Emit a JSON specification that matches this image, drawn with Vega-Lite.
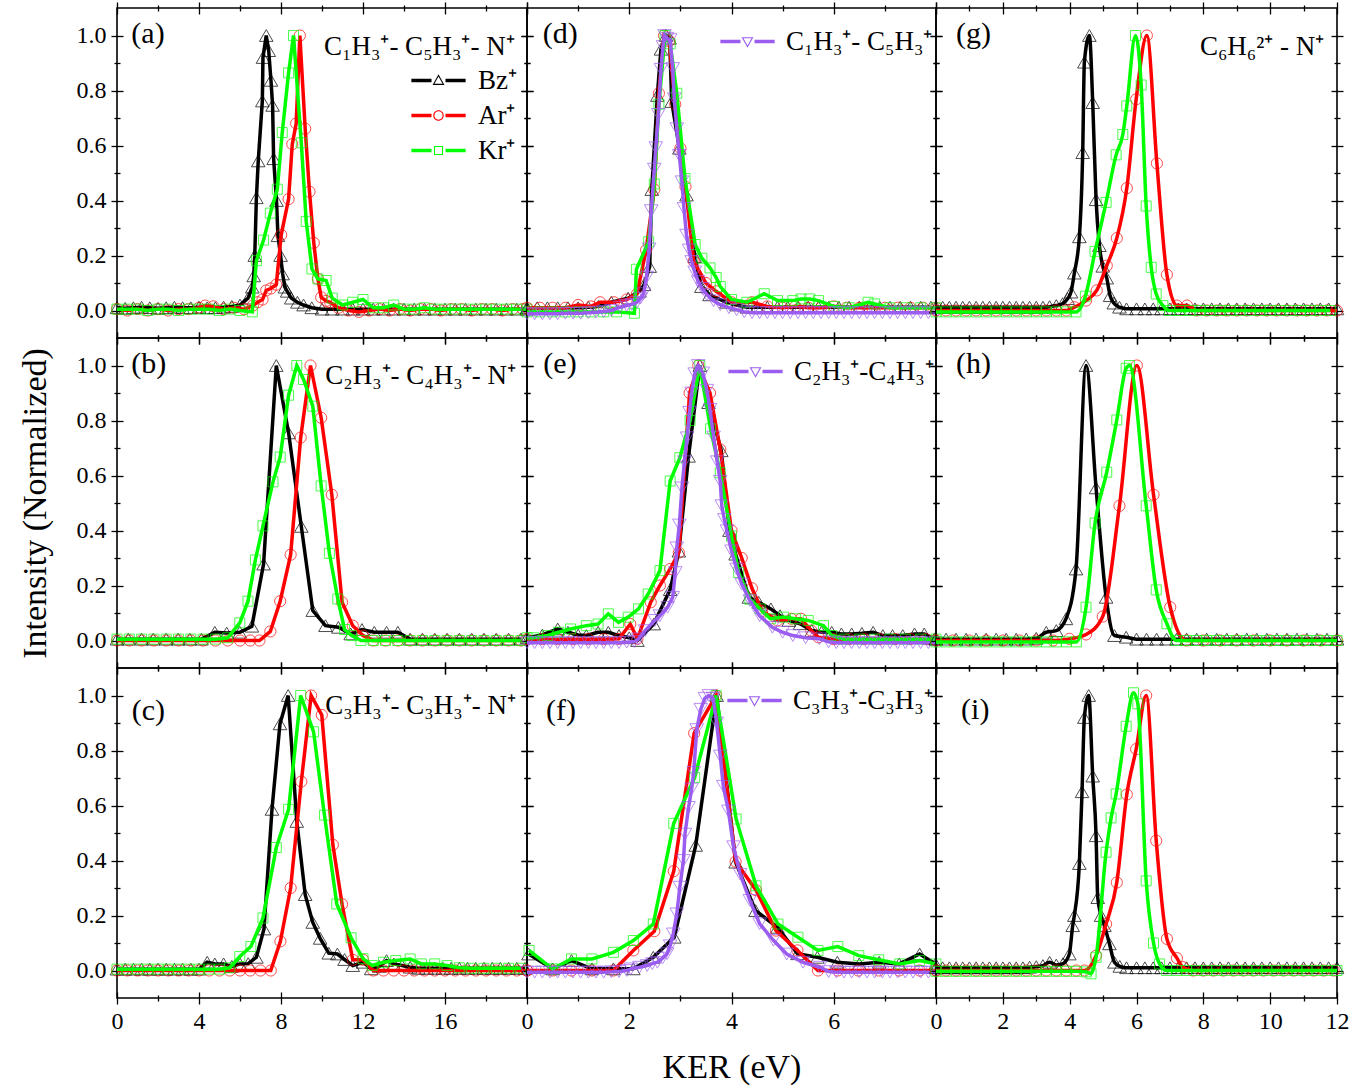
{
"$schema": "https://vega.github.io/schema/vega-lite/v6.json",
"background": "white",
"padding": {"left": 17, "top": 0, "right": 20, "bottom": 4},
"columns": 3,
"spacing": 0,
"bounds": "flush",
"align": "each",
"resolve": {"scale": {"x": "independent", "y": "independent", "color": "independent", "shape": "independent"}, "legend": {"color": "independent", "shape": "independent"}, "axis": {"x": "independent", "y": "independent"}},
"config": {
  "font": "Liberation Serif",
  "view": {"stroke": "#000000", "strokeWidth": 1.6},
  "axis": {"domain": false, "grid": false, "tickColor": "#000000", "tickWidth": 1.3, "tickSize": 12, "labelFont": "Liberation Serif", "labelFontSize": 24, "labelColor": "#000000", "labelPadding": 5, "labelFlush": false, "labelOverlap": false, "titleFont": "Liberation Serif", "titleFontSize": 34, "titleFontWeight": "normal", "titleColor": "#000000"},
  "legend": {"labelFont": "Liberation Serif", "labelFontSize": 27, "labelColor": "#000000", "padding": 0}
},
"datasets": {
"a": [
{"s":"B","x":0,"y":0.01},{"s":"B","x":0.4,"y":0.008},{"s":"B","x":0.8,"y":0.01},{"s":"B","x":1.2,"y":0.012},{"s":"B","x":1.6,"y":0.01},{"s":"B","x":2,"y":0.008},{"s":"B","x":2.4,"y":0.01},{"s":"B","x":2.8,"y":0.012},{"s":"B","x":3.2,"y":0.01},{"s":"B","x":3.6,"y":0.01},{"s":"B","x":4,"y":0.012},{"s":"B","x":4.4,"y":0.01},{"s":"B","x":4.8,"y":0.01},{"s":"B","x":5.2,"y":0.012},{"s":"B","x":5.6,"y":0.015},{"s":"B","x":6,"y":0.02},
{"s":"B","x":6.39,"y":0.045},{"s":"B","x":6.6,"y":0.085},{"s":"B","x":6.67,"y":0.126},{"s":"B","x":6.72,"y":0.2},{"s":"B","x":6.8,"y":0.41},{"s":"B","x":6.89,"y":0.544},{"s":"B","x":7.09,"y":0.762},{"s":"B","x":7.12,"y":0.92},{"s":"B","x":7.28,"y":1},{"s":"B","x":7.4,"y":0.945},{"s":"B","x":7.51,"y":0.837},{"s":"B","x":7.59,"y":0.746},{"s":"B","x":7.64,"y":0.552},{"s":"B","x":7.78,"y":0.4},{"s":"B","x":7.85,"y":0.272},{"s":"B","x":7.98,"y":0.2},{"s":"B","x":8.08,"y":0.133},{"s":"B","x":8.19,"y":0.085},{"s":"B","x":8.3,"y":0.07},{"s":"B","x":8.5,"y":0.045},{"s":"B","x":8.8,"y":0.03},{"s":"B","x":9.1,"y":0.02},{"s":"B","x":9.5,"y":0.01},
{"s":"B","x":10,"y":0.005},{"s":"B","x":10.5,"y":0.005},{"s":"B","x":11,"y":0.005},{"s":"B","x":11.5,"y":0.005},{"s":"B","x":12,"y":0.005},{"s":"B","x":12.5,"y":0.005},{"s":"B","x":13,"y":0.005},{"s":"B","x":13.5,"y":0.005},{"s":"B","x":14,"y":0.005},{"s":"B","x":14.5,"y":0.005},{"s":"B","x":15,"y":0.005},{"s":"B","x":15.5,"y":0.005},{"s":"B","x":16,"y":0.005},{"s":"B","x":16.5,"y":0.005},{"s":"B","x":17,"y":0.005},{"s":"B","x":17.5,"y":0.005},{"s":"B","x":18,"y":0.005},{"s":"B","x":18.5,"y":0.005},{"s":"B","x":19,"y":0.005},{"s":"B","x":19.5,"y":0.005},{"s":"B","x":20,"y":0.005},
{"s":"A","x":0,"y":0.005},{"s":"A","x":0.5,"y":0},{"s":"A","x":1,"y":0.005},{"s":"A","x":1.5,"y":0},{"s":"A","x":2,"y":0.005},{"s":"A","x":2.5,"y":0},{"s":"A","x":3,"y":0.005},{"s":"A","x":3.5,"y":0.005},{"s":"A","x":4,"y":0.01},{"s":"A","x":4.3,"y":0.018},{"s":"A","x":4.7,"y":0.015},{"s":"A","x":5.2,"y":0.005},{"s":"A","x":5.7,"y":0.01},{"s":"A","x":6.2,"y":0.005},
{"s":"A","x":6.63,"y":0.018},{"s":"A","x":6.86,"y":0.03},{"s":"A","x":7.1,"y":0.04},{"s":"A","x":7.28,"y":0.073},{"s":"A","x":7.5,"y":0.08},{"s":"A","x":7.77,"y":0.094},{"s":"A","x":8.01,"y":0.275},{"s":"A","x":8.37,"y":0.405},{"s":"A","x":8.55,"y":0.605},{"s":"A","x":8.74,"y":0.68},{"s":"A","x":8.92,"y":1},{"s":"A","x":9.18,"y":0.661},{"s":"A","x":9.39,"y":0.432},{"s":"A","x":9.6,"y":0.246},{"s":"A","x":9.8,"y":0.115},{"s":"A","x":9.96,"y":0.048},{"s":"A","x":10.2,"y":0.035},{"s":"A","x":10.4,"y":0.03},{"s":"A","x":10.8,"y":0.01},
{"s":"A","x":11.3,"y":0},{"s":"A","x":11.8,"y":-0.005},{"s":"A","x":12.3,"y":0},{"s":"A","x":12.8,"y":0.005},{"s":"A","x":13.3,"y":0},{"s":"A","x":13.8,"y":0.005},{"s":"A","x":14.3,"y":0},{"s":"A","x":14.8,"y":0.005},{"s":"A","x":15.3,"y":0.005},{"s":"A","x":15.8,"y":0},{"s":"A","x":16.3,"y":0.005},{"s":"A","x":16.8,"y":0.005},{"s":"A","x":17.3,"y":0},{"s":"A","x":17.8,"y":0.005},{"s":"A","x":18.3,"y":0.005},{"s":"A","x":18.8,"y":0},{"s":"A","x":19.3,"y":0.005},{"s":"A","x":19.8,"y":0.005},
{"s":"K","x":0,"y":0.005},{"s":"K","x":0.5,"y":0.005},{"s":"K","x":1,"y":0.005},{"s":"K","x":1.5,"y":0},{"s":"K","x":2,"y":0.005},{"s":"K","x":2.5,"y":0.005},{"s":"K","x":3,"y":0},{"s":"K","x":3.5,"y":0.005},{"s":"K","x":4,"y":0.005},{"s":"K","x":4.5,"y":0.005},{"s":"K","x":5,"y":0},{"s":"K","x":5.5,"y":0.005},{"s":"K","x":6,"y":0},{"s":"K","x":6.6,"y":-0.005},
{"s":"K","x":6.8,"y":0.181},{"s":"K","x":7.15,"y":0.256},{"s":"K","x":7.48,"y":0.354},{"s":"K","x":7.82,"y":0.441},{"s":"K","x":8.06,"y":0.647},{"s":"K","x":8.37,"y":0.864},{"s":"K","x":8.61,"y":1},{"s":"K","x":8.99,"y":0.61},{"s":"K","x":9.23,"y":0.324},{"s":"K","x":9.51,"y":0.151},{"s":"K","x":9.8,"y":0.115},{"s":"K","x":10.2,"y":0.109},{"s":"K","x":10.5,"y":0.045},{"s":"K","x":11,"y":0.02},{"s":"K","x":11.5,"y":0.03},{"s":"K","x":12,"y":0.04},{"s":"K","x":12.5,"y":0.01},{"s":"K","x":13,"y":0.01},{"s":"K","x":13.5,"y":0.02},
{"s":"K","x":14,"y":0.005},{"s":"K","x":14.5,"y":0.005},{"s":"K","x":15,"y":0.01},{"s":"K","x":15.5,"y":0.005},{"s":"K","x":16,"y":0.005},{"s":"K","x":16.5,"y":0.005},{"s":"K","x":17,"y":0.005},{"s":"K","x":17.5,"y":0.005},{"s":"K","x":18,"y":0.005},{"s":"K","x":18.5,"y":0.005},{"s":"K","x":19,"y":0.005},{"s":"K","x":19.5,"y":0.005},{"s":"K","x":20,"y":0.005}
],
"b": [
{"s":"B","x":0,"y":0.005},{"s":"B","x":0.55,"y":0.005},{"s":"B","x":1.2,"y":0.005},{"s":"B","x":1.77,"y":0.005},{"s":"B","x":2.4,"y":0.005},{"s":"B","x":2.98,"y":0.005},{"s":"B","x":3.55,"y":0.005},{"s":"B","x":4.12,"y":0.005},{"s":"B","x":4.77,"y":0.03},{"s":"B","x":5.35,"y":0.027},{"s":"B","x":5.99,"y":0.03},{"s":"B","x":6.58,"y":0.052},{"s":"B","x":7.15,"y":0.278},{"s":"B","x":7.77,"y":1},{"s":"B","x":8.37,"y":0.755},{"s":"B","x":8.99,"y":0.415},{"s":"B","x":9.55,"y":0.109},{"s":"B","x":10.17,"y":0.054},{"s":"B","x":10.8,"y":0.048},{"s":"B","x":11.4,"y":0.024},{"s":"B","x":11.95,"y":0.04},{"s":"B","x":12.55,"y":0.03},{"s":"B","x":13.15,"y":0.03},{"s":"B","x":13.7,"y":0.03},{"s":"B","x":14.3,"y":0.005},{"s":"B","x":14.9,"y":0.005},{"s":"B","x":15.5,"y":0.005},{"s":"B","x":16.1,"y":0.005},{"s":"B","x":16.7,"y":0.005},{"s":"B","x":17.3,"y":0.005},{"s":"B","x":17.9,"y":0.005},{"s":"B","x":18.5,"y":0.005},{"s":"B","x":19.1,"y":0.005},{"s":"B","x":19.7,"y":0.005},
{"s":"A","x":0,"y":0},{"s":"A","x":0.6,"y":0},{"s":"A","x":1.2,"y":0},{"s":"A","x":1.8,"y":0},{"s":"A","x":2.4,"y":0},{"s":"A","x":3,"y":0},{"s":"A","x":3.6,"y":0},{"s":"A","x":4.2,"y":0},{"s":"A","x":4.8,"y":0},{"s":"A","x":5.4,"y":0},{"s":"A","x":6,"y":0},{"s":"A","x":6.5,"y":0},{"s":"A","x":6.95,"y":0},{"s":"A","x":7.48,"y":0.033},{"s":"A","x":7.96,"y":0.143},{"s":"A","x":8.47,"y":0.312},{"s":"A","x":8.96,"y":0.738},{"s":"A","x":9.44,"y":1},{"s":"A","x":9.96,"y":0.81},{"s":"A","x":10.48,"y":0.53},{"s":"A","x":10.98,"y":0.139},{"s":"A","x":11.5,"y":0.054},{"s":"A","x":12,"y":0.018},{"s":"A","x":12.5,"y":0},{"s":"A","x":13.1,"y":0},{"s":"A","x":13.7,"y":0},{"s":"A","x":14.3,"y":0},{"s":"A","x":14.9,"y":0},{"s":"A","x":15.5,"y":0},{"s":"A","x":16.1,"y":0},{"s":"A","x":16.7,"y":0},{"s":"A","x":17.3,"y":0},{"s":"A","x":17.9,"y":0},{"s":"A","x":18.5,"y":0},{"s":"A","x":19.1,"y":0},{"s":"A","x":19.7,"y":0},
{"s":"K","x":0,"y":0.005},{"s":"K","x":0.6,"y":0.005},{"s":"K","x":1.2,"y":0.005},{"s":"K","x":1.8,"y":0.005},{"s":"K","x":2.4,"y":0.005},{"s":"K","x":3,"y":0.005},{"s":"K","x":3.6,"y":0.005},{"s":"K","x":4.2,"y":0.005},{"s":"K","x":4.8,"y":0.005},{"s":"K","x":5.4,"y":0.01},{"s":"K","x":5.99,"y":0.064},{"s":"K","x":6.39,"y":0.143},{"s":"K","x":6.75,"y":0.293},{"s":"K","x":7.12,"y":0.417},{"s":"K","x":7.61,"y":0.577},{"s":"K","x":7.96,"y":0.667},{"s":"K","x":8.37,"y":0.892},{"s":"K","x":8.77,"y":1},{"s":"K","x":9.1,"y":0.949},{"s":"K","x":9.55,"y":0.852},{"s":"K","x":9.96,"y":0.562},{"s":"K","x":10.36,"y":0.317},{"s":"K","x":10.77,"y":0.151},{"s":"K","x":11.1,"y":0.04},{"s":"K","x":11.45,"y":0.018},{"s":"K","x":11.9,"y":0},{"s":"K","x":12.5,"y":0},{"s":"K","x":13.1,"y":0},{"s":"K","x":13.7,"y":0},{"s":"K","x":14.3,"y":0},{"s":"K","x":14.9,"y":0},{"s":"K","x":15.5,"y":0},{"s":"K","x":16.1,"y":0},{"s":"K","x":16.7,"y":0},{"s":"K","x":17.3,"y":0},{"s":"K","x":17.9,"y":0},{"s":"K","x":18.5,"y":0},{"s":"K","x":19.1,"y":0},{"s":"K","x":19.7,"y":0}
],
"c": [
{"s":"B","x":0,"y":0.005},{"s":"B","x":0.4,"y":0.005},{"s":"B","x":0.8,"y":0.005},{"s":"B","x":1.2,"y":0.005},{"s":"B","x":1.6,"y":0.005},{"s":"B","x":2,"y":0.005},{"s":"B","x":2.4,"y":0.005},{"s":"B","x":2.8,"y":0.005},{"s":"B","x":3.2,"y":0.005},{"s":"B","x":3.6,"y":0.005},{"s":"B","x":4,"y":0.005},{"s":"B","x":4.4,"y":0.03},{"s":"B","x":4.77,"y":0.024},{"s":"B","x":5.2,"y":0.024},{"s":"B","x":5.6,"y":0.015},{"s":"B","x":6,"y":0.024},{"s":"B","x":6.4,"y":0.025},{"s":"B","x":6.8,"y":0.048},{"s":"B","x":7.17,"y":0.151},{"s":"B","x":7.56,"y":0.586},{"s":"B","x":7.95,"y":0.897},{"s":"B","x":8.35,"y":1},{"s":"B","x":8.77,"y":0.542},{"s":"B","x":9.18,"y":0.276},{"s":"B","x":9.55,"y":0.175},{"s":"B","x":9.91,"y":0.117},{"s":"B","x":10.33,"y":0.063},{"s":"B","x":10.75,"y":0.06},{"s":"B","x":11.1,"y":0.04},{"s":"B","x":11.5,"y":0.018},{"s":"B","x":12,"y":0.03},{"s":"B","x":12.4,"y":0.006},{"s":"B","x":12.8,"y":0.015},{"s":"B","x":13.15,"y":0.036},{"s":"B","x":13.5,"y":0.024},{"s":"B","x":13.9,"y":0.018},{"s":"B","x":14.3,"y":0.012},{"s":"B","x":14.7,"y":0.008},{"s":"B","x":15.1,"y":0.008},{"s":"B","x":15.5,"y":0.008},{"s":"B","x":15.9,"y":0.008},{"s":"B","x":16.3,"y":0.008},{"s":"B","x":16.7,"y":0.008},{"s":"B","x":17.1,"y":0.008},{"s":"B","x":17.5,"y":0.008},{"s":"B","x":17.9,"y":0.008},{"s":"B","x":18.3,"y":0.008},{"s":"B","x":18.7,"y":0.008},{"s":"B","x":19.1,"y":0.008},{"s":"B","x":19.5,"y":0.008},{"s":"B","x":19.9,"y":0.008},
{"s":"A","x":0,"y":0},{"s":"A","x":0.5,"y":0},{"s":"A","x":1,"y":0},{"s":"A","x":1.5,"y":0},{"s":"A","x":2,"y":0},{"s":"A","x":2.5,"y":0},{"s":"A","x":3,"y":0},{"s":"A","x":3.5,"y":0},{"s":"A","x":4,"y":0},{"s":"A","x":4.5,"y":0},{"s":"A","x":5,"y":0},{"s":"A","x":5.5,"y":0},{"s":"A","x":6,"y":0},{"s":"A","x":6.5,"y":0},{"s":"A","x":7,"y":0},{"s":"A","x":7.5,"y":0},{"s":"A","x":7.97,"y":0.106},{"s":"A","x":8.47,"y":0.3},{"s":"A","x":8.99,"y":0.687},{"s":"A","x":9.47,"y":1},{"s":"A","x":9.99,"y":0.929},{"s":"A","x":10.53,"y":0.457},{"s":"A","x":10.98,"y":0.241},{"s":"A","x":11.5,"y":0.039},{"s":"A","x":12,"y":0.039},{"s":"A","x":12.5,"y":0},{"s":"A","x":13,"y":0},{"s":"A","x":13.5,"y":0},{"s":"A","x":14,"y":0},{"s":"A","x":14.5,"y":0},{"s":"A","x":15,"y":0},{"s":"A","x":15.5,"y":0},{"s":"A","x":16,"y":0},{"s":"A","x":16.5,"y":0},{"s":"A","x":17,"y":0},{"s":"A","x":17.5,"y":0},{"s":"A","x":18,"y":0},{"s":"A","x":18.5,"y":0},{"s":"A","x":19,"y":0},{"s":"A","x":19.5,"y":0},{"s":"A","x":20,"y":0},
{"s":"K","x":0,"y":0.005},{"s":"K","x":0.5,"y":0.005},{"s":"K","x":1,"y":0.005},{"s":"K","x":1.5,"y":0.005},{"s":"K","x":2,"y":0.005},{"s":"K","x":2.5,"y":0.005},{"s":"K","x":3,"y":0.005},{"s":"K","x":3.5,"y":0.005},{"s":"K","x":4,"y":0.005},{"s":"K","x":4.5,"y":0.005},{"s":"K","x":5,"y":0.005},{"s":"K","x":5.5,"y":0.01},{"s":"K","x":5.99,"y":0.051},{"s":"K","x":6.53,"y":0.087},{"s":"K","x":7.12,"y":0.191},{"s":"K","x":7.77,"y":0.447},{"s":"K","x":8.37,"y":0.586},{"s":"K","x":8.96,"y":1},{"s":"K","x":9.59,"y":0.868},{"s":"K","x":10.12,"y":0.565},{"s":"K","x":10.72,"y":0.242},{"s":"K","x":11.42,"y":0.119},{"s":"K","x":12,"y":0.043},{"s":"K","x":12.45,"y":0.018},{"s":"K","x":13,"y":0.03},{"s":"K","x":13.6,"y":0.036},{"s":"K","x":14.3,"y":0.042},{"s":"K","x":14.85,"y":0.024},{"s":"K","x":15.5,"y":0.024},{"s":"K","x":16.1,"y":0.018},{"s":"K","x":16.7,"y":0.01},{"s":"K","x":17.3,"y":0.008},{"s":"K","x":17.9,"y":0.008},{"s":"K","x":18.5,"y":0.008},{"s":"K","x":19.1,"y":0.008},{"s":"K","x":19.7,"y":0.008}
],
"d": [
{"s":"B","x":0,"y":0.01},{"s":"B","x":0.2,"y":0.01},{"s":"B","x":0.4,"y":0.01},{"s":"B","x":0.6,"y":0.01},{"s":"B","x":0.8,"y":0.01},{"s":"B","x":1,"y":0.01},{"s":"B","x":1.2,"y":0.012},{"s":"B","x":1.4,"y":0.015},{"s":"B","x":1.65,"y":0.03},{"s":"B","x":1.98,"y":0.045},{"s":"B","x":2.2,"y":0.07},{"s":"B","x":2.29,"y":0.094},{"s":"B","x":2.4,"y":0.16},{"s":"B","x":2.44,"y":0.44},{"s":"B","x":2.55,"y":0.782},{"s":"B","x":2.62,"y":0.95},{"s":"B","x":2.72,"y":1},{"s":"B","x":2.79,"y":0.99},{"s":"B","x":2.83,"y":0.76},{"s":"B","x":2.98,"y":0.59},{"s":"B","x":3.12,"y":0.42},{"s":"B","x":3.28,"y":0.196},{"s":"B","x":3.41,"y":0.087},{"s":"B","x":3.57,"y":0.057},{"s":"B","x":3.9,"y":0.03},{"s":"B","x":4.1,"y":0.02},{"s":"B","x":4.3,"y":0.012},{"s":"B","x":4.5,"y":0.012},{"s":"B","x":4.7,"y":0.012},{"s":"B","x":4.9,"y":0.012},{"s":"B","x":5.1,"y":0.012},{"s":"B","x":5.3,"y":0.012},{"s":"B","x":5.5,"y":0.012},{"s":"B","x":5.7,"y":0.012},{"s":"B","x":5.9,"y":0.012},{"s":"B","x":6.1,"y":0.012},{"s":"B","x":6.3,"y":0.012},{"s":"B","x":6.5,"y":0.012},{"s":"B","x":6.7,"y":0.012},{"s":"B","x":6.9,"y":0.012},{"s":"B","x":7.1,"y":0.012},{"s":"B","x":7.3,"y":0.012},{"s":"B","x":7.5,"y":0.012},{"s":"B","x":7.7,"y":0.012},{"s":"B","x":7.9,"y":0.012},
{"s":"A","x":0,"y":0.01},{"s":"A","x":0.25,"y":0.01},{"s":"A","x":0.5,"y":0.01},{"s":"A","x":0.75,"y":0.01},{"s":"A","x":1,"y":0.02},{"s":"A","x":1.25,"y":0.015},{"s":"A","x":1.43,"y":0.03},{"s":"A","x":1.7,"y":0.03},{"s":"A","x":1.95,"y":0.04},{"s":"A","x":2.15,"y":0.06},{"s":"A","x":2.33,"y":0.22},{"s":"A","x":2.49,"y":0.44},{"s":"A","x":2.58,"y":0.79},{"s":"A","x":2.68,"y":1},{"s":"A","x":2.78,"y":0.98},{"s":"A","x":2.9,"y":0.75},{"s":"A","x":3,"y":0.59},{"s":"A","x":3.1,"y":0.45},{"s":"A","x":3.26,"y":0.18},{"s":"A","x":3.5,"y":0.1},{"s":"A","x":3.7,"y":0.07},{"s":"A","x":4,"y":0.03},{"s":"A","x":4.4,"y":0.03},{"s":"A","x":4.7,"y":0.015},{"s":"A","x":5,"y":0.01},{"s":"A","x":5.25,"y":0.015},{"s":"A","x":5.5,"y":0.01},{"s":"A","x":5.75,"y":0.01},{"s":"A","x":6,"y":0.015},{"s":"A","x":6.25,"y":0.01},{"s":"A","x":6.5,"y":0.01},{"s":"A","x":6.75,"y":0.01},{"s":"A","x":7,"y":0.01},{"s":"A","x":7.25,"y":0.01},{"s":"A","x":7.5,"y":0.01},{"s":"A","x":7.75,"y":0.01},{"s":"A","x":8,"y":0.01},
{"s":"K","x":0,"y":-0.005},{"s":"K","x":0.25,"y":-0.005},{"s":"K","x":0.5,"y":-0.005},{"s":"K","x":0.75,"y":-0.005},{"s":"K","x":1,"y":-0.005},{"s":"K","x":1.25,"y":-0.005},{"s":"K","x":1.5,"y":-0.005},{"s":"K","x":1.75,"y":-0.005},{"s":"K","x":2.1,"y":-0.01},{"s":"K","x":2.14,"y":0.15},{"s":"K","x":2.38,"y":0.25},{"s":"K","x":2.49,"y":0.46},{"s":"K","x":2.58,"y":0.75},{"s":"K","x":2.7,"y":1},{"s":"K","x":2.8,"y":0.97},{"s":"K","x":2.93,"y":0.79},{"s":"K","x":3.09,"y":0.48},{"s":"K","x":3.29,"y":0.24},{"s":"K","x":3.42,"y":0.19},{"s":"K","x":3.58,"y":0.155},{"s":"K","x":3.7,"y":0.12},{"s":"K","x":3.78,"y":0.087},{"s":"K","x":4,"y":0.04},{"s":"K","x":4.3,"y":0.03},{"s":"K","x":4.64,"y":0.061},{"s":"K","x":4.9,"y":0.036},{"s":"K","x":5.2,"y":0.036},{"s":"K","x":5.36,"y":0.042},{"s":"K","x":5.53,"y":0.042},{"s":"K","x":5.7,"y":0.036},{"s":"K","x":6,"y":0.015},{"s":"K","x":6.3,"y":0.01},{"s":"K","x":6.67,"y":0.03},{"s":"K","x":6.8,"y":0.024},{"s":"K","x":7.1,"y":0.01},{"s":"K","x":7.4,"y":0.01},{"s":"K","x":7.7,"y":0.01},{"s":"K","x":8,"y":0.01},
{"s":"P","x":0,"y":-0.012},{"s":"P","x":0.15,"y":-0.012},{"s":"P","x":0.3,"y":-0.012},{"s":"P","x":0.45,"y":-0.012},{"s":"P","x":0.6,"y":-0.012},{"s":"P","x":0.75,"y":-0.01},{"s":"P","x":0.9,"y":-0.01},{"s":"P","x":1.05,"y":-0.01},{"s":"P","x":1.2,"y":-0.008},{"s":"P","x":1.35,"y":-0.006},{"s":"P","x":1.5,"y":-0.004},{"s":"P","x":1.65,"y":0},{"s":"P","x":1.82,"y":0.012},{"s":"P","x":1.95,"y":0.018},{"s":"P","x":2.05,"y":0.022},{"s":"P","x":2.15,"y":0.03},{"s":"P","x":2.22,"y":0.045},{"s":"P","x":2.28,"y":0.061},{"s":"P","x":2.34,"y":0.121},{"s":"P","x":2.39,"y":0.224},{"s":"P","x":2.43,"y":0.363},{"s":"P","x":2.49,"y":0.514},{"s":"P","x":2.52,"y":0.592},{"s":"P","x":2.57,"y":0.713},{"s":"P","x":2.62,"y":0.877},{"s":"P","x":2.66,"y":0.96},{"s":"P","x":2.69,"y":1},{"s":"P","x":2.74,"y":0.99},{"s":"P","x":2.8,"y":0.985},{"s":"P","x":2.85,"y":0.88},{"s":"P","x":2.88,"y":0.77},{"s":"P","x":2.93,"y":0.661},{"s":"P","x":2.98,"y":0.564},{"s":"P","x":3.03,"y":0.468},{"s":"P","x":3.07,"y":0.371},{"s":"P","x":3.12,"y":0.274},{"s":"P","x":3.17,"y":0.22},{"s":"P","x":3.22,"y":0.178},{"s":"P","x":3.28,"y":0.14},{"s":"P","x":3.35,"y":0.105},{"s":"P","x":3.43,"y":0.08},{"s":"P","x":3.52,"y":0.057},{"s":"P","x":3.65,"y":0.035},{"s":"P","x":3.78,"y":0.021},{"s":"P","x":3.95,"y":0.01},{"s":"P","x":4.1,"y":0.003},{"s":"P","x":4.25,"y":-0.005},{"s":"P","x":4.4,"y":-0.008},{"s":"P","x":4.55,"y":-0.008},{"s":"P","x":4.7,"y":-0.008},{"s":"P","x":4.85,"y":-0.008},{"s":"P","x":5,"y":-0.008},{"s":"P","x":5.15,"y":-0.008},{"s":"P","x":5.3,"y":-0.008},{"s":"P","x":5.45,"y":-0.008},{"s":"P","x":5.6,"y":-0.008},{"s":"P","x":5.75,"y":-0.008},{"s":"P","x":5.9,"y":-0.008},{"s":"P","x":6.05,"y":-0.008},{"s":"P","x":6.2,"y":-0.008},{"s":"P","x":6.35,"y":-0.008},{"s":"P","x":6.5,"y":-0.008},{"s":"P","x":6.65,"y":-0.008},{"s":"P","x":6.8,"y":-0.008},{"s":"P","x":6.95,"y":-0.008},{"s":"P","x":7.1,"y":-0.008},{"s":"P","x":7.25,"y":-0.008},{"s":"P","x":7.4,"y":-0.008},{"s":"P","x":7.55,"y":-0.008},{"s":"P","x":7.7,"y":-0.008},{"s":"P","x":7.85,"y":-0.008},{"s":"P","x":8,"y":-0.008}
],
"e": [
{"s":"B","x":0,"y":0.01},{"s":"B","x":0.3,"y":0.02},{"s":"B","x":0.6,"y":0.042},{"s":"B","x":0.8,"y":0.03},{"s":"B","x":1,"y":0.02},{"s":"B","x":1.16,"y":0.018},{"s":"B","x":1.39,"y":0.03},{"s":"B","x":1.59,"y":0.03},{"s":"B","x":1.8,"y":0.018},{"s":"B","x":2,"y":0.01},{"s":"B","x":2.16,"y":0},{"s":"B","x":2.48,"y":0.06},{"s":"B","x":2.8,"y":0.185},{"s":"B","x":2.97,"y":0.325},{"s":"B","x":3.16,"y":0.67},{"s":"B","x":3.38,"y":1},{"s":"B","x":3.55,"y":0.865},{"s":"B","x":3.8,"y":0.69},{"s":"B","x":3.96,"y":0.4},{"s":"B","x":4.08,"y":0.314},{"s":"B","x":4.34,"y":0.157},{"s":"B","x":4.53,"y":0.139},{"s":"B","x":4.77,"y":0.115},{"s":"B","x":4.95,"y":0.09},{"s":"B","x":5.12,"y":0.073},{"s":"B","x":5.34,"y":0.061},{"s":"B","x":5.57,"y":0.036},{"s":"B","x":5.76,"y":0.03},{"s":"B","x":5.96,"y":0.03},{"s":"B","x":6.15,"y":0.024},{"s":"B","x":6.35,"y":0.024},{"s":"B","x":6.55,"y":0.026},{"s":"B","x":6.77,"y":0.03},{"s":"B","x":6.96,"y":0.018},{"s":"B","x":7.15,"y":0.018},{"s":"B","x":7.35,"y":0.018},{"s":"B","x":7.58,"y":0.024},{"s":"B","x":7.77,"y":0.024},{"s":"B","x":7.97,"y":0.006},
{"s":"A","x":0,"y":0.005},{"s":"A","x":0.3,"y":0.005},{"s":"A","x":0.6,"y":0.005},{"s":"A","x":0.9,"y":0.005},{"s":"A","x":1.2,"y":0.005},{"s":"A","x":1.5,"y":0.005},{"s":"A","x":1.8,"y":0.006},{"s":"A","x":2.02,"y":0.06},{"s":"A","x":2.16,"y":0.006},{"s":"A","x":2.42,"y":0.139},{"s":"A","x":2.6,"y":0.2},{"s":"A","x":2.8,"y":0.26},{"s":"A","x":2.97,"y":0.32},{"s":"A","x":3.18,"y":0.9},{"s":"A","x":3.35,"y":1},{"s":"A","x":3.58,"y":0.9},{"s":"A","x":3.78,"y":0.695},{"s":"A","x":4,"y":0.4},{"s":"A","x":4.2,"y":0.3},{"s":"A","x":4.4,"y":0.19},{"s":"A","x":4.6,"y":0.107},{"s":"A","x":4.9,"y":0.073},{"s":"A","x":5.17,"y":0.079},{"s":"A","x":5.36,"y":0.079},{"s":"A","x":5.56,"y":0.036},{"s":"A","x":5.7,"y":0.012},{"s":"A","x":6,"y":0.005},{"s":"A","x":6.3,"y":0.005},{"s":"A","x":6.6,"y":0.005},{"s":"A","x":6.9,"y":0.005},{"s":"A","x":7.2,"y":0.005},{"s":"A","x":7.5,"y":0.005},{"s":"A","x":7.8,"y":0.005},
{"s":"K","x":0,"y":0.01},{"s":"K","x":0.13,"y":0.01},{"s":"K","x":0.4,"y":0.018},{"s":"K","x":0.62,"y":0.03},{"s":"K","x":0.85,"y":0.042},{"s":"K","x":1.16,"y":0.054},{"s":"K","x":1.39,"y":0.06},{"s":"K","x":1.59,"y":0.097},{"s":"K","x":1.79,"y":0.066},{"s":"K","x":1.98,"y":0.085},{"s":"K","x":2.18,"y":0.115},{"s":"K","x":2.37,"y":0.169},{"s":"K","x":2.6,"y":0.254},{"s":"K","x":2.8,"y":0.58},{"s":"K","x":2.99,"y":0.665},{"s":"K","x":3.19,"y":0.8},{"s":"K","x":3.38,"y":1},{"s":"K","x":3.59,"y":0.77},{"s":"K","x":3.78,"y":0.61},{"s":"K","x":4,"y":0.38},{"s":"K","x":4.14,"y":0.247},{"s":"K","x":4.36,"y":0.15},{"s":"K","x":4.56,"y":0.115},{"s":"K","x":4.76,"y":0.079},{"s":"K","x":5.02,"y":0.085},{"s":"K","x":5.25,"y":0.079},{"s":"K","x":5.5,"y":0.073},{"s":"K","x":5.8,"y":0.054},{"s":"K","x":5.96,"y":0.018},{"s":"K","x":6.2,"y":0.005},{"s":"K","x":6.5,"y":0.005},{"s":"K","x":6.8,"y":0.005},{"s":"K","x":7.1,"y":0.005},{"s":"K","x":7.4,"y":0.005},{"s":"K","x":7.7,"y":0.005},{"s":"K","x":8,"y":0.005},
{"s":"P","x":0,"y":-0.008},{"s":"P","x":0.15,"y":-0.008},{"s":"P","x":0.3,"y":-0.008},{"s":"P","x":0.45,"y":-0.008},{"s":"P","x":0.6,"y":-0.008},{"s":"P","x":0.75,"y":-0.008},{"s":"P","x":0.9,"y":-0.008},{"s":"P","x":1.05,"y":-0.008},{"s":"P","x":1.2,"y":-0.008},{"s":"P","x":1.35,"y":-0.008},{"s":"P","x":1.5,"y":-0.008},{"s":"P","x":1.65,"y":-0.008},{"s":"P","x":1.8,"y":-0.008},{"s":"P","x":1.95,"y":-0.006},{"s":"P","x":2.1,"y":-0.004},{"s":"P","x":2.18,"y":0.006},{"s":"P","x":2.31,"y":0.036},{"s":"P","x":2.5,"y":0.073},{"s":"P","x":2.6,"y":0.09},{"s":"P","x":2.75,"y":0.121},{"s":"P","x":2.85,"y":0.157},{"s":"P","x":2.9,"y":0.247},{"s":"P","x":2.93,"y":0.337},{"s":"P","x":2.98,"y":0.42},{"s":"P","x":3.03,"y":0.555},{"s":"P","x":3.08,"y":0.65},{"s":"P","x":3.13,"y":0.737},{"s":"P","x":3.18,"y":0.83},{"s":"P","x":3.22,"y":0.9},{"s":"P","x":3.28,"y":0.97},{"s":"P","x":3.35,"y":1},{"s":"P","x":3.44,"y":0.973},{"s":"P","x":3.52,"y":0.91},{"s":"P","x":3.58,"y":0.84},{"s":"P","x":3.65,"y":0.74},{"s":"P","x":3.72,"y":0.65},{"s":"P","x":3.78,"y":0.579},{"s":"P","x":3.81,"y":0.49},{"s":"P","x":3.86,"y":0.44},{"s":"P","x":3.91,"y":0.399},{"s":"P","x":4,"y":0.326},{"s":"P","x":4.1,"y":0.26},{"s":"P","x":4.2,"y":0.205},{"s":"P","x":4.36,"y":0.145},{"s":"P","x":4.55,"y":0.09},{"s":"P","x":4.8,"y":0.048},{"s":"P","x":5,"y":0.03},{"s":"P","x":5.2,"y":0.018},{"s":"P","x":5.45,"y":0.01},{"s":"P","x":5.72,"y":0.006},{"s":"P","x":5.9,"y":-0.005},{"s":"P","x":6.05,"y":-0.008},{"s":"P","x":6.2,"y":-0.008},{"s":"P","x":6.35,"y":-0.008},{"s":"P","x":6.5,"y":-0.008},{"s":"P","x":6.65,"y":-0.008},{"s":"P","x":6.8,"y":-0.008},{"s":"P","x":6.95,"y":-0.008},{"s":"P","x":7.1,"y":-0.008},{"s":"P","x":7.25,"y":-0.008},{"s":"P","x":7.4,"y":-0.008},{"s":"P","x":7.55,"y":-0.008},{"s":"P","x":7.7,"y":-0.008},{"s":"P","x":7.85,"y":-0.008},{"s":"P","x":8,"y":-0.008}
],
"f": [
{"s":"B","x":0.03,"y":0.06},{"s":"B","x":0.5,"y":0.006},{"s":"B","x":0.87,"y":0.036},{"s":"B","x":1.27,"y":0.006},{"s":"B","x":1.69,"y":0.006},{"s":"B","x":2.08,"y":0.006},{"s":"B","x":2.47,"y":0.048},{"s":"B","x":2.88,"y":0.121},{"s":"B","x":3.3,"y":0.455},{"s":"B","x":3.71,"y":1},{"s":"B","x":4.08,"y":0.394},{"s":"B","x":4.47,"y":0.218},{"s":"B","x":4.9,"y":0.157},{"s":"B","x":5.29,"y":0.061},{"s":"B","x":5.68,"y":0.048},{"s":"B","x":6.07,"y":0.03},{"s":"B","x":6.5,"y":0.024},{"s":"B","x":6.89,"y":0.03},{"s":"B","x":7.28,"y":0.024},{"s":"B","x":7.68,"y":0.06},{"s":"B","x":7.99,"y":0.024},
{"s":"A","x":0,"y":0},{"s":"A","x":0.5,"y":0},{"s":"A","x":0.87,"y":0},{"s":"A","x":1.27,"y":0},{"s":"A","x":1.69,"y":0},{"s":"A","x":2.08,"y":0.073},{"s":"A","x":2.49,"y":0.143},{"s":"A","x":2.87,"y":0.361},{"s":"A","x":3.27,"y":0.863},{"s":"A","x":3.7,"y":1},{"s":"A","x":4.08,"y":0.396},{"s":"A","x":4.48,"y":0.292},{"s":"A","x":4.87,"y":0.145},{"s":"A","x":5.29,"y":0.073},{"s":"A","x":5.69,"y":0},{"s":"A","x":6.08,"y":0},{"s":"A","x":6.48,"y":0},{"s":"A","x":6.88,"y":0},{"s":"A","x":7.28,"y":0},{"s":"A","x":7.68,"y":0},{"s":"A","x":8,"y":0},
{"s":"K","x":0.04,"y":0.073},{"s":"K","x":0.5,"y":0.006},{"s":"K","x":0.87,"y":0.042},{"s":"K","x":1.27,"y":0.042},{"s":"K","x":1.69,"y":0.066},{"s":"K","x":2.08,"y":0.109},{"s":"K","x":2.47,"y":0.169},{"s":"K","x":2.87,"y":0.535},{"s":"K","x":3.28,"y":0.702},{"s":"K","x":3.7,"y":1},{"s":"K","x":4.09,"y":0.551},{"s":"K","x":4.48,"y":0.308},{"s":"K","x":4.91,"y":0.169},{"s":"K","x":5.3,"y":0.121},{"s":"K","x":5.69,"y":0.073},{"s":"K","x":6.08,"y":0.087},{"s":"K","x":6.49,"y":0.054},{"s":"K","x":6.88,"y":0.039},{"s":"K","x":7.29,"y":0.024},{"s":"K","x":7.68,"y":0.036},{"s":"K","x":8,"y":0.024},
{"s":"P","x":0,"y":-0.006},{"s":"P","x":0.15,"y":-0.006},{"s":"P","x":0.3,"y":-0.006},{"s":"P","x":0.45,"y":-0.006},{"s":"P","x":0.6,"y":-0.006},{"s":"P","x":0.75,"y":-0.006},{"s":"P","x":0.9,"y":-0.006},{"s":"P","x":1.05,"y":-0.006},{"s":"P","x":1.2,"y":-0.006},{"s":"P","x":1.35,"y":-0.006},{"s":"P","x":1.5,"y":-0.006},{"s":"P","x":1.65,"y":-0.005},{"s":"P","x":1.8,"y":-0.004},{"s":"P","x":1.95,"y":0},{"s":"P","x":2.03,"y":0.006},{"s":"P","x":2.2,"y":0.012},{"s":"P","x":2.35,"y":0.018},{"s":"P","x":2.45,"y":0.025},{"s":"P","x":2.55,"y":0.03},{"s":"P","x":2.65,"y":0.045},{"s":"P","x":2.74,"y":0.061},{"s":"P","x":2.8,"y":0.09},{"s":"P","x":2.86,"y":0.133},{"s":"P","x":2.93,"y":0.206},{"s":"P","x":2.99,"y":0.303},{"s":"P","x":3.06,"y":0.4},{"s":"P","x":3.09,"y":0.496},{"s":"P","x":3.16,"y":0.593},{"s":"P","x":3.22,"y":0.66},{"s":"P","x":3.26,"y":0.72},{"s":"P","x":3.32,"y":0.876},{"s":"P","x":3.4,"y":0.95},{"s":"P","x":3.48,"y":0.99},{"s":"P","x":3.56,"y":1},{"s":"P","x":3.64,"y":0.99},{"s":"P","x":3.71,"y":0.9},{"s":"P","x":3.78,"y":0.78},{"s":"P","x":3.84,"y":0.67},{"s":"P","x":3.94,"y":0.58},{"s":"P","x":4.04,"y":0.45},{"s":"P","x":4.17,"y":0.35},{"s":"P","x":4.36,"y":0.255},{"s":"P","x":4.55,"y":0.17},{"s":"P","x":4.82,"y":0.11},{"s":"P","x":5.08,"y":0.06},{"s":"P","x":5.4,"y":0.03},{"s":"P","x":5.73,"y":0.012},{"s":"P","x":5.9,"y":-0.004},{"s":"P","x":6.05,"y":-0.006},{"s":"P","x":6.2,"y":-0.006},{"s":"P","x":6.35,"y":-0.006},{"s":"P","x":6.5,"y":-0.006},{"s":"P","x":6.65,"y":-0.006},{"s":"P","x":6.8,"y":-0.006},{"s":"P","x":6.95,"y":-0.006},{"s":"P","x":7.1,"y":-0.006},{"s":"P","x":7.25,"y":-0.006},{"s":"P","x":7.4,"y":-0.006},{"s":"P","x":7.55,"y":-0.006},{"s":"P","x":7.7,"y":-0.006},{"s":"P","x":7.85,"y":-0.006},{"s":"P","x":8,"y":-0.006}
],
"g": [
{"s":"B","x":0,"y":0.012},{"s":"B","x":0.2,"y":0.012},{"s":"B","x":0.4,"y":0.012},{"s":"B","x":0.6,"y":0.012},{"s":"B","x":0.8,"y":0.012},{"s":"B","x":1,"y":0.012},{"s":"B","x":1.2,"y":0.012},{"s":"B","x":1.4,"y":0.012},{"s":"B","x":1.6,"y":0.012},{"s":"B","x":1.8,"y":0.012},{"s":"B","x":2,"y":0.012},{"s":"B","x":2.2,"y":0.012},{"s":"B","x":2.4,"y":0.012},{"s":"B","x":2.6,"y":0.012},{"s":"B","x":2.8,"y":0.012},{"s":"B","x":3,"y":0.012},{"s":"B","x":3.2,"y":0.012},{"s":"B","x":3.4,"y":0.014},{"s":"B","x":3.6,"y":0.018},{"s":"B","x":3.79,"y":0.025},{"s":"B","x":3.94,"y":0.043},{"s":"B","x":4.04,"y":0.067},{"s":"B","x":4.14,"y":0.136},{"s":"B","x":4.29,"y":0.268},{"s":"B","x":4.39,"y":0.574},{"s":"B","x":4.44,"y":0.903},{"s":"B","x":4.59,"y":1},{"s":"B","x":4.69,"y":0.756},{"s":"B","x":4.79,"y":0.403},{"s":"B","x":4.89,"y":0.236},{"s":"B","x":4.99,"y":0.161},{"s":"B","x":5.11,"y":0.118},{"s":"B","x":5.21,"y":0.054},{"s":"B","x":5.32,"y":0.027},{"s":"B","x":5.49,"y":0.012},{"s":"B","x":5.7,"y":0.006},{"s":"B","x":6,"y":0.006},{"s":"B","x":6.25,"y":0.006},{"s":"B","x":6.5,"y":0.006},{"s":"B","x":6.75,"y":0.006},{"s":"B","x":7,"y":0.006},{"s":"B","x":7.25,"y":0.006},{"s":"B","x":7.5,"y":0.006},{"s":"B","x":7.75,"y":0.006},{"s":"B","x":8,"y":0.006},{"s":"B","x":8.25,"y":0.006},{"s":"B","x":8.5,"y":0.006},{"s":"B","x":8.75,"y":0.006},{"s":"B","x":9,"y":0.006},{"s":"B","x":9.25,"y":0.006},{"s":"B","x":9.5,"y":0.006},{"s":"B","x":9.75,"y":0.006},{"s":"B","x":10,"y":0.006},{"s":"B","x":10.25,"y":0.006},{"s":"B","x":10.5,"y":0.006},{"s":"B","x":10.75,"y":0.006},{"s":"B","x":11,"y":0.006},{"s":"B","x":11.25,"y":0.006},{"s":"B","x":11.5,"y":0.006},{"s":"B","x":11.75,"y":0.006},{"s":"B","x":12,"y":0.006},
{"s":"A","x":0,"y":0},{"s":"A","x":0.3,"y":0},{"s":"A","x":0.6,"y":0},{"s":"A","x":0.9,"y":0},{"s":"A","x":1.2,"y":0},{"s":"A","x":1.5,"y":0},{"s":"A","x":1.8,"y":0},{"s":"A","x":2.1,"y":0},{"s":"A","x":2.4,"y":0},{"s":"A","x":2.7,"y":0},{"s":"A","x":3,"y":0},{"s":"A","x":3.3,"y":0},{"s":"A","x":3.6,"y":0},{"s":"A","x":3.9,"y":0},{"s":"A","x":4.14,"y":0.012},{"s":"A","x":4.49,"y":0.036},{"s":"A","x":4.81,"y":0.073},{"s":"A","x":5.11,"y":0.163},{"s":"A","x":5.41,"y":0.263},{"s":"A","x":5.71,"y":0.445},{"s":"A","x":5.99,"y":0.768},{"s":"A","x":6.31,"y":1},{"s":"A","x":6.61,"y":0.535},{"s":"A","x":6.91,"y":0.13},{"s":"A","x":7.21,"y":0.018},{"s":"A","x":7.51,"y":0.018},{"s":"A","x":7.8,"y":0},{"s":"A","x":8.1,"y":0},{"s":"A","x":8.4,"y":0},{"s":"A","x":8.7,"y":0},{"s":"A","x":9,"y":0},{"s":"A","x":9.3,"y":0},{"s":"A","x":9.6,"y":0},{"s":"A","x":9.9,"y":0},{"s":"A","x":10.2,"y":0},{"s":"A","x":10.5,"y":0},{"s":"A","x":10.8,"y":0},{"s":"A","x":11.1,"y":0},{"s":"A","x":11.4,"y":0},{"s":"A","x":11.7,"y":0},{"s":"A","x":12,"y":0},
{"s":"K","x":0,"y":-0.005},{"s":"K","x":0.3,"y":-0.005},{"s":"K","x":0.6,"y":-0.005},{"s":"K","x":0.9,"y":-0.005},{"s":"K","x":1.2,"y":-0.005},{"s":"K","x":1.5,"y":-0.005},{"s":"K","x":1.8,"y":-0.005},{"s":"K","x":2.1,"y":-0.005},{"s":"K","x":2.4,"y":-0.005},{"s":"K","x":2.7,"y":-0.005},{"s":"K","x":3,"y":-0.005},{"s":"K","x":3.3,"y":-0.005},{"s":"K","x":3.6,"y":-0.005},{"s":"K","x":3.9,"y":-0.005},{"s":"K","x":4.19,"y":-0.005},{"s":"K","x":4.47,"y":0.052},{"s":"K","x":4.76,"y":0.215},{"s":"K","x":5.09,"y":0.393},{"s":"K","x":5.39,"y":0.566},{"s":"K","x":5.59,"y":0.64},{"s":"K","x":5.71,"y":0.744},{"s":"K","x":5.97,"y":1},{"s":"K","x":6.14,"y":0.82},{"s":"K","x":6.29,"y":0.38},{"s":"K","x":6.44,"y":0.157},{"s":"K","x":6.59,"y":0.06},{"s":"K","x":6.79,"y":0.018},{"s":"K","x":6.99,"y":0},{"s":"K","x":7.3,"y":0},{"s":"K","x":7.6,"y":0},{"s":"K","x":7.9,"y":0},{"s":"K","x":8.2,"y":0},{"s":"K","x":8.5,"y":0},{"s":"K","x":8.8,"y":0},{"s":"K","x":9.1,"y":0},{"s":"K","x":9.4,"y":0},{"s":"K","x":9.7,"y":0},{"s":"K","x":10,"y":0},{"s":"K","x":10.3,"y":0},{"s":"K","x":10.6,"y":0},{"s":"K","x":10.9,"y":0},{"s":"K","x":11.2,"y":0},{"s":"K","x":11.5,"y":0},{"s":"K","x":11.8,"y":0}
],
"h": [
{"s":"B","x":0,"y":0.005},{"s":"B","x":0.3,"y":0.005},{"s":"B","x":0.6,"y":0.005},{"s":"B","x":0.9,"y":0.005},{"s":"B","x":1.2,"y":0.005},{"s":"B","x":1.5,"y":0.005},{"s":"B","x":1.8,"y":0.005},{"s":"B","x":2.1,"y":0.005},{"s":"B","x":2.4,"y":0.005},{"s":"B","x":2.7,"y":0.005},{"s":"B","x":3,"y":0.008},{"s":"B","x":3.3,"y":0.03},{"s":"B","x":3.6,"y":0.036},{"s":"B","x":3.89,"y":0.079},{"s":"B","x":4.19,"y":0.26},{"s":"B","x":4.49,"y":1},{"s":"B","x":4.79,"y":0.555},{"s":"B","x":5.09,"y":0.157},{"s":"B","x":5.34,"y":0.018},{"s":"B","x":5.69,"y":0.012},{"s":"B","x":6,"y":0.005},{"s":"B","x":6.3,"y":0.005},{"s":"B","x":6.6,"y":0.005},{"s":"B","x":6.9,"y":0.005},{"s":"B","x":7.2,"y":0.005},{"s":"B","x":7.5,"y":0.005},{"s":"B","x":7.8,"y":0.005},{"s":"B","x":8.1,"y":0.005},{"s":"B","x":8.4,"y":0.005},{"s":"B","x":8.7,"y":0.005},{"s":"B","x":9,"y":0.005},{"s":"B","x":9.3,"y":0.005},{"s":"B","x":9.6,"y":0.005},{"s":"B","x":9.9,"y":0.005},{"s":"B","x":10.2,"y":0.005},{"s":"B","x":10.5,"y":0.005},{"s":"B","x":10.8,"y":0.005},{"s":"B","x":11.1,"y":0.005},{"s":"B","x":11.4,"y":0.005},{"s":"B","x":11.7,"y":0.005},{"s":"B","x":12,"y":0.005},
{"s":"A","x":0,"y":0},{"s":"A","x":0.5,"y":0},{"s":"A","x":1,"y":0},{"s":"A","x":1.5,"y":0},{"s":"A","x":2,"y":0},{"s":"A","x":2.5,"y":0},{"s":"A","x":3,"y":0},{"s":"A","x":3.5,"y":0},{"s":"A","x":3.99,"y":0.006},{"s":"A","x":4.49,"y":0.022},{"s":"A","x":4.99,"y":0.087},{"s":"A","x":5.49,"y":0.49},{"s":"A","x":6.01,"y":1},{"s":"A","x":6.51,"y":0.53},{"s":"A","x":7.01,"y":0.121},{"s":"A","x":7.49,"y":0},{"s":"A","x":8,"y":0},{"s":"A","x":8.5,"y":0},{"s":"A","x":9,"y":0},{"s":"A","x":9.5,"y":0},{"s":"A","x":10,"y":0},{"s":"A","x":10.5,"y":0},{"s":"A","x":11,"y":0},{"s":"A","x":11.5,"y":0},{"s":"A","x":12,"y":0},
{"s":"K","x":0,"y":-0.005},{"s":"K","x":0.3,"y":-0.005},{"s":"K","x":0.6,"y":-0.005},{"s":"K","x":0.9,"y":-0.005},{"s":"K","x":1.2,"y":-0.005},{"s":"K","x":1.5,"y":-0.005},{"s":"K","x":1.8,"y":-0.005},{"s":"K","x":2.1,"y":-0.005},{"s":"K","x":2.4,"y":-0.005},{"s":"K","x":2.7,"y":-0.005},{"s":"K","x":3,"y":-0.005},{"s":"K","x":3.3,"y":-0.005},{"s":"K","x":3.6,"y":-0.005},{"s":"K","x":3.9,"y":-0.005},{"s":"K","x":4.2,"y":-0.005},{"s":"K","x":4.49,"y":0.121},{"s":"K","x":4.76,"y":0.427},{"s":"K","x":5.11,"y":0.612},{"s":"K","x":5.41,"y":0.802},{"s":"K","x":5.69,"y":0.99},{"s":"K","x":5.79,"y":1},{"s":"K","x":6.29,"y":0.49},{"s":"K","x":6.59,"y":0.184},{"s":"K","x":6.91,"y":0.061},{"s":"K","x":7.19,"y":0},{"s":"K","x":7.5,"y":0},{"s":"K","x":7.8,"y":0},{"s":"K","x":8.1,"y":0},{"s":"K","x":8.4,"y":0},{"s":"K","x":8.7,"y":0},{"s":"K","x":9,"y":0},{"s":"K","x":9.3,"y":0},{"s":"K","x":9.6,"y":0},{"s":"K","x":9.9,"y":0},{"s":"K","x":10.2,"y":0},{"s":"K","x":10.5,"y":0},{"s":"K","x":10.8,"y":0},{"s":"K","x":11.1,"y":0},{"s":"K","x":11.4,"y":0},{"s":"K","x":11.7,"y":0},{"s":"K","x":12,"y":0}
],
"i": [
{"s":"B","x":0,"y":0.01},{"s":"B","x":0.2,"y":0.01},{"s":"B","x":0.4,"y":0.01},{"s":"B","x":0.6,"y":0.01},{"s":"B","x":0.8,"y":0.01},{"s":"B","x":1,"y":0.01},{"s":"B","x":1.2,"y":0.01},{"s":"B","x":1.4,"y":0.01},{"s":"B","x":1.6,"y":0.01},{"s":"B","x":1.8,"y":0.01},{"s":"B","x":2,"y":0.01},{"s":"B","x":2.2,"y":0.01},{"s":"B","x":2.4,"y":0.01},{"s":"B","x":2.6,"y":0.01},{"s":"B","x":2.8,"y":0.012},{"s":"B","x":3,"y":0.014},{"s":"B","x":3.2,"y":0.018},{"s":"B","x":3.4,"y":0.03},{"s":"B","x":3.6,"y":0.02},{"s":"B","x":3.8,"y":0.025},{"s":"B","x":3.99,"y":0.06},{"s":"B","x":4.09,"y":0.163},{"s":"B","x":4.14,"y":0.2},{"s":"B","x":4.29,"y":0.389},{"s":"B","x":4.37,"y":0.65},{"s":"B","x":4.44,"y":0.92},{"s":"B","x":4.57,"y":1},{"s":"B","x":4.69,"y":0.707},{"s":"B","x":4.79,"y":0.49},{"s":"B","x":4.84,"y":0.265},{"s":"B","x":4.94,"y":0.2},{"s":"B","x":5.04,"y":0.163},{"s":"B","x":5.19,"y":0.097},{"s":"B","x":5.34,"y":0.03},{"s":"B","x":5.5,"y":0.015},{"s":"B","x":5.7,"y":0.01},{"s":"B","x":6,"y":0.01},{"s":"B","x":6.25,"y":0.01},{"s":"B","x":6.5,"y":0.01},{"s":"B","x":6.75,"y":0.01},{"s":"B","x":7,"y":0.01},{"s":"B","x":7.25,"y":0.01},{"s":"B","x":7.5,"y":0.01},{"s":"B","x":7.75,"y":0.01},{"s":"B","x":8,"y":0.01},{"s":"B","x":8.25,"y":0.01},{"s":"B","x":8.5,"y":0.01},{"s":"B","x":8.75,"y":0.01},{"s":"B","x":9,"y":0.01},{"s":"B","x":9.25,"y":0.01},{"s":"B","x":9.5,"y":0.01},{"s":"B","x":9.75,"y":0.01},{"s":"B","x":10,"y":0.01},{"s":"B","x":10.25,"y":0.01},{"s":"B","x":10.5,"y":0.01},{"s":"B","x":10.75,"y":0.01},{"s":"B","x":11,"y":0.01},{"s":"B","x":11.25,"y":0.01},{"s":"B","x":11.5,"y":0.01},{"s":"B","x":11.75,"y":0.01},{"s":"B","x":12,"y":0.01},
{"s":"A","x":0,"y":0},{"s":"A","x":0.3,"y":0},{"s":"A","x":0.6,"y":0},{"s":"A","x":0.9,"y":0},{"s":"A","x":1.2,"y":0},{"s":"A","x":1.5,"y":0},{"s":"A","x":1.8,"y":0},{"s":"A","x":2.1,"y":0},{"s":"A","x":2.4,"y":0},{"s":"A","x":2.7,"y":0},{"s":"A","x":3,"y":0},{"s":"A","x":3.3,"y":0},{"s":"A","x":3.6,"y":0},{"s":"A","x":3.9,"y":0},{"s":"A","x":4.2,"y":0},{"s":"A","x":4.44,"y":0},{"s":"A","x":4.79,"y":0.054},{"s":"A","x":5.09,"y":0.169},{"s":"A","x":5.41,"y":0.32},{"s":"A","x":5.71,"y":0.64},{"s":"A","x":5.99,"y":0.805},{"s":"A","x":6.29,"y":1},{"s":"A","x":6.59,"y":0.472},{"s":"A","x":6.91,"y":0.115},{"s":"A","x":7.21,"y":0.045},{"s":"A","x":7.39,"y":0.012},{"s":"A","x":7.7,"y":0},{"s":"A","x":8,"y":0},{"s":"A","x":8.3,"y":0},{"s":"A","x":8.6,"y":0},{"s":"A","x":8.9,"y":0},{"s":"A","x":9.2,"y":0},{"s":"A","x":9.5,"y":0},{"s":"A","x":9.8,"y":0},{"s":"A","x":10.1,"y":0},{"s":"A","x":10.4,"y":0},{"s":"A","x":10.7,"y":0},{"s":"A","x":11,"y":0},{"s":"A","x":11.3,"y":0},{"s":"A","x":11.6,"y":0},{"s":"A","x":11.9,"y":0},
{"s":"K","x":0,"y":-0.003},{"s":"K","x":0.3,"y":-0.003},{"s":"K","x":0.6,"y":-0.003},{"s":"K","x":0.9,"y":-0.003},{"s":"K","x":1.2,"y":-0.003},{"s":"K","x":1.5,"y":-0.003},{"s":"K","x":1.8,"y":-0.003},{"s":"K","x":2.1,"y":-0.003},{"s":"K","x":2.4,"y":-0.003},{"s":"K","x":2.7,"y":-0.003},{"s":"K","x":3,"y":-0.003},{"s":"K","x":3.3,"y":-0.003},{"s":"K","x":3.6,"y":-0.003},{"s":"K","x":3.9,"y":-0.003},{"s":"K","x":4.2,"y":-0.003},{"s":"K","x":4.5,"y":-0.005},{"s":"K","x":4.64,"y":-0.012},{"s":"K","x":4.79,"y":0.048},{"s":"K","x":5.09,"y":0.43},{"s":"K","x":5.24,"y":0.555},{"s":"K","x":5.39,"y":0.642},{"s":"K","x":5.69,"y":0.888},{"s":"K","x":5.91,"y":1.01},{"s":"K","x":6.04,"y":0.97},{"s":"K","x":6.29,"y":0.326},{"s":"K","x":6.51,"y":0.1},{"s":"K","x":6.69,"y":0.024},{"s":"K","x":6.9,"y":0},{"s":"K","x":7.2,"y":0},{"s":"K","x":7.5,"y":0},{"s":"K","x":7.8,"y":0},{"s":"K","x":8.1,"y":0},{"s":"K","x":8.4,"y":0},{"s":"K","x":8.7,"y":0},{"s":"K","x":9,"y":0},{"s":"K","x":9.3,"y":0},{"s":"K","x":9.6,"y":0},{"s":"K","x":9.9,"y":0},{"s":"K","x":10.2,"y":0},{"s":"K","x":10.5,"y":0},{"s":"K","x":10.8,"y":0},{"s":"K","x":11.1,"y":0},{"s":"K","x":11.4,"y":0},{"s":"K","x":11.7,"y":0},{"s":"K","x":12,"y":0}
]
},
"concat": [
{
 "width": 410, "height": 330,
 "layer": [
  {"data": {"name": "a"}, "transform": [{"filter": "datum.s == 'B'"}], "mark": {"type": "line", "strokeWidth": 3.5, "color": "#000000"},
   "encoding": {"x": {"field": "x", "type": "quantitative", "scale": {"domain": [0,20], "nice": false, "zero": false}, "axis": {"orient": "bottom", "offset": -6, "values": [0,4,8,12,16,20], "labels": false, "title": null}},
                "y": {"field": "y", "type": "quantitative", "scale": {"domain": [-0.1,1.1], "nice": false, "zero": false}, "axis": {"orient": "left", "offset": -6, "values": [0,0.2,0.4,0.6,0.8,1], "format": ".1f", "title": null}}}},
  {"data": {"name": "a"}, "transform": [{"filter": "datum.s == 'B'"}], "mark": {"type": "point", "shape": "triangle-up", "filled": false, "color": "#000000", "size": 185, "strokeWidth": 1},
   "encoding": {"x": {"field": "x", "type": "quantitative", "axis": {"orient": "top", "offset": -6, "values": [0,4,8,12,16,20], "labels": false, "title": null}},
                "y": {"field": "y", "type": "quantitative", "axis": {"orient": "right", "offset": -6, "values": [0,0.2,0.4,0.6,0.8,1], "labels": false, "title": null}}}},
  {"data": {"name": "a"}, "transform": [{"filter": "datum.s == 'A'"}], "mark": {"type": "line", "strokeWidth": 3.5, "color": "#ff0000"}, "encoding": {"x": {"field": "x", "type": "quantitative", "axis": null}, "y": {"field": "y", "type": "quantitative", "axis": null}}},
  {"data": {"name": "a"}, "transform": [{"filter": "datum.s == 'A'"}], "mark": {"type": "point", "shape": "circle", "filled": false, "color": "#ff0000", "size": 125, "strokeWidth": 1}, "encoding": {"x": {"field": "x", "type": "quantitative", "axis": null}, "y": {"field": "y", "type": "quantitative", "axis": null}}},
  {"data": {"name": "a"}, "transform": [{"filter": "datum.s == 'K'"}], "mark": {"type": "line", "strokeWidth": 3.5, "color": "#00ff00"}, "encoding": {"x": {"field": "x", "type": "quantitative", "axis": null}, "y": {"field": "y", "type": "quantitative", "axis": null}}},
  {"data": {"name": "a"}, "transform": [{"filter": "datum.s == 'K'"}], "mark": {"type": "point", "shape": "square", "filled": false, "color": "#00ff00", "size": 100, "strokeWidth": 1}, "encoding": {"x": {"field": "x", "type": "quantitative", "axis": null}, "y": {"field": "y", "type": "quantitative", "axis": null}}},
  {"data": {"name": "a"}, "mark": {"type": "point", "filled": true, "opacity": 0},
   "encoding": {
    "color": {"field": "s", "type": "nominal", "scale": {"domain": ["B","A","K","P"], "range": ["#000000","#ff0000","#00ff00","#9b5cf0"]},
      "legend": {"orient": "none", "legendX": 304, "legendY": 55, "title": null, "values": ["B","A","K"], "labelExpr": "datum.value == 'B' ? 'Bz⁺' : datum.value == 'A' ? 'Ar⁺' : 'Kr⁺'", "symbolSize": 1225, "symbolOpacity": 1, "symbolStrokeWidth": 0, "labelOffset": 22, "rowPadding": 4}},
    "shape": {"field": "s", "type": "nominal", "scale": {"domain": ["B","A","K","P"], "range": [
       "M-1.55,-0.1L-0.4,-0.1L-0.4,0.1L-1.55,0.1Z M0.4,-0.1L1.55,-0.1L1.55,0.1L0.4,0.1Z M0,-0.36L0.34,0.25L-0.34,0.25Z M0,-0.23L-0.232,0.187L0.232,0.187Z",
       "M-1.55,-0.1L-0.4,-0.1L-0.4,0.1L-1.55,0.1Z M0.4,-0.1L1.55,-0.1L1.55,0.1L0.4,0.1Z M0.3,0A0.3,0.3 0 1 1 -0.3,0A0.3,0.3 0 1 1 0.3,0Z M0.237,0A0.237,0.237 0 1 0 -0.237,0A0.237,0.237 0 1 0 0.237,0Z",
       "M-1.55,-0.1L-0.4,-0.1L-0.4,0.1L-1.55,0.1Z M0.4,-0.1L1.55,-0.1L1.55,0.1L0.4,0.1Z M-0.26,-0.26L0.26,-0.26L0.26,0.26L-0.26,0.26Z M-0.197,-0.197L-0.197,0.197L0.197,0.197L0.197,-0.197Z",
       "M-1.55,-0.1L-0.4,-0.1L-0.4,0.1L-1.55,0.1Z M0.4,-0.1L1.55,-0.1L1.55,0.1L0.4,0.1Z M0,0.36L-0.34,-0.25L0.34,-0.25Z M0,0.23L0.232,-0.187L-0.232,-0.187Z"]},
      "legend": {"orient": "none", "legendX": 304, "legendY": 55, "title": null, "values": ["B","A","K"], "labelExpr": "datum.value == 'B' ? 'Bz⁺' : datum.value == 'A' ? 'Ar⁺' : 'Kr⁺'", "symbolSize": 1225, "symbolOpacity": 1, "symbolStrokeWidth": 0, "labelOffset": 22, "rowPadding": 4}}
   }},
  {"data": {"values": [{}]}, "mark": {"type": "text", "fontSize": 30, "align": "left", "baseline": "middle"},
   "encoding": {"x": {"datum": 0.7, "type": "quantitative", "axis": {"orient": "bottom", "offset": -3, "tickSize": 6, "values": [2,6,10,14,18], "labels": false, "title": null}}, "y": {"datum": 1.005, "type": "quantitative", "axis": {"orient": "left", "offset": -3, "tickSize": 6, "values": [0.1,0.3,0.5,0.7,0.9], "labels": false, "title": null}}, "text": {"value": "(a)"}}},
  {"data": {"values": [{}]}, "mark": {"type": "text", "fontSize": 27, "align": "right", "baseline": "middle"},
   "encoding": {"x": {"datum": 19.4, "type": "quantitative", "axis": {"orient": "top", "offset": -3, "tickSize": 6, "values": [2,6,10,14,18], "labels": false, "title": null}}, "y": {"datum": 0.96, "type": "quantitative", "axis": {"orient": "right", "offset": -3, "tickSize": 6, "values": [0.1,0.3,0.5,0.7,0.9], "labels": false, "title": null}}, "text": {"value": "C₁H₃⁺- C₅H₃⁺- N⁺"}}}
 ],
 "resolve": {"axis": {"x": "independent", "y": "independent"}}
},
{
 "width": 409, "height": 330,
 "layer": [
  {"data": {"name": "d"}, "transform": [{"filter": "datum.s == 'B'"}], "mark": {"type": "line", "strokeWidth": 3.5, "color": "#000000"},
   "encoding": {"x": {"field": "x", "type": "quantitative", "scale": {"domain": [0,8], "nice": false, "zero": false}, "axis": {"orient": "bottom", "offset": -6, "values": [0,2,4,6,8], "labels": false, "title": null}},
                "y": {"field": "y", "type": "quantitative", "scale": {"domain": [-0.1,1.1], "nice": false, "zero": false}, "axis": {"orient": "left", "offset": -6, "values": [0,0.2,0.4,0.6,0.8,1], "labels": false, "title": null}}}},
  {"data": {"name": "d"}, "transform": [{"filter": "datum.s == 'B'"}], "mark": {"type": "point", "shape": "triangle-up", "filled": false, "color": "#000000", "size": 185, "strokeWidth": 1},
   "encoding": {"x": {"field": "x", "type": "quantitative", "axis": {"orient": "top", "offset": -6, "values": [0,2,4,6,8], "labels": false, "title": null}},
                "y": {"field": "y", "type": "quantitative", "axis": {"orient": "right", "offset": -6, "values": [0,0.2,0.4,0.6,0.8,1], "labels": false, "title": null}}}},
  {"data": {"name": "d"}, "transform": [{"filter": "datum.s == 'A'"}], "mark": {"type": "line", "strokeWidth": 3.5, "color": "#ff0000"}, "encoding": {"x": {"field": "x", "type": "quantitative", "axis": null}, "y": {"field": "y", "type": "quantitative", "axis": null}}},
  {"data": {"name": "d"}, "transform": [{"filter": "datum.s == 'A'"}], "mark": {"type": "point", "shape": "circle", "filled": false, "color": "#ff0000", "size": 125, "strokeWidth": 1}, "encoding": {"x": {"field": "x", "type": "quantitative", "axis": null}, "y": {"field": "y", "type": "quantitative", "axis": null}}},
  {"data": {"name": "d"}, "transform": [{"filter": "datum.s == 'K'"}], "mark": {"type": "line", "strokeWidth": 3.5, "color": "#00ff00"}, "encoding": {"x": {"field": "x", "type": "quantitative", "axis": null}, "y": {"field": "y", "type": "quantitative", "axis": null}}},
  {"data": {"name": "d"}, "transform": [{"filter": "datum.s == 'K'"}], "mark": {"type": "point", "shape": "square", "filled": false, "color": "#00ff00", "size": 100, "strokeWidth": 1}, "encoding": {"x": {"field": "x", "type": "quantitative", "axis": null}, "y": {"field": "y", "type": "quantitative", "axis": null}}},
  {"data": {"name": "d"}, "transform": [{"filter": "datum.s == 'P'"}], "mark": {"type": "line", "strokeWidth": 3.5, "color": "#9b5cf0"}, "encoding": {"x": {"field": "x", "type": "quantitative", "axis": null}, "y": {"field": "y", "type": "quantitative", "axis": null}}},
  {"data": {"name": "d"}, "transform": [{"filter": "datum.s == 'P'"}], "mark": {"type": "point", "shape": "triangle-down", "filled": false, "color": "#9b5cf0", "size": 185, "strokeWidth": 1}, "encoding": {"x": {"field": "x", "type": "quantitative", "axis": null}, "y": {"field": "y", "type": "quantitative", "axis": null}}},
  {"data": {"name": "d"}, "transform": [{"filter": "datum.s == 'P'"}], "mark": {"type": "point", "filled": true, "opacity": 0},
   "encoding": {
    "color": {"field": "s", "type": "nominal", "scale": {"domain": ["P"], "range": ["#9b5cf0"]},
      "legend": {"orient": "none", "legendX": 203, "legendY": 16, "title": null, "values": ["P"], "labelExpr": "'C₁H₃⁺- C₅H₃⁺'", "symbolSize": 1225, "symbolOpacity": 1, "symbolStrokeWidth": 0, "labelOffset": 21, "rowPadding": 0}},
    "shape": {"field": "s", "type": "nominal", "scale": {"domain": ["P"], "range": ["M-1.55,-0.1L-0.4,-0.1L-0.4,0.1L-1.55,0.1Z M0.4,-0.1L1.55,-0.1L1.55,0.1L0.4,0.1Z M0,0.36L-0.34,-0.25L0.34,-0.25Z M0,0.23L0.232,-0.187L-0.232,-0.187Z"]},
      "legend": {"orient": "none", "legendX": 203, "legendY": 16, "title": null, "values": ["P"], "labelExpr": "'C₁H₃⁺- C₅H₃⁺'", "symbolSize": 1225, "symbolOpacity": 1, "symbolStrokeWidth": 0, "labelOffset": 21, "rowPadding": 0}}
   }},
  {"data": {"values": [{}]}, "mark": {"type": "text", "fontSize": 30, "align": "left", "baseline": "middle"},
   "encoding": {"x": {"datum": 0.31, "type": "quantitative", "axis": {"orient": "bottom", "offset": -3, "tickSize": 6, "values": [1,3,5,7], "labels": false, "title": null}}, "y": {"datum": 1.005, "type": "quantitative", "axis": {"orient": "left", "offset": -3, "tickSize": 6, "values": [0.1,0.3,0.5,0.7,0.9], "labels": false, "title": null}}, "text": {"value": "(d)"}}},
  {"data": {"values": [{}]}, "mark": {"type": "text", "fontSize": 27, "align": "right", "baseline": "middle"},
   "encoding": {"x": {"datum": 7.9, "type": "quantitative", "axis": {"orient": "top", "offset": -3, "tickSize": 6, "values": [1,3,5,7], "labels": false, "title": null}}, "y": {"datum": 0.96, "type": "quantitative", "axis": {"orient": "right", "offset": -3, "tickSize": 6, "values": [0.1,0.3,0.5,0.7,0.9], "labels": false, "title": null}}, "text": {"value": ""}}}
 ],
 "resolve": {"axis": {"x": "independent", "y": "independent"}}
},
{
 "width": 401, "height": 330,
 "layer": [
  {"data": {"name": "g"}, "transform": [{"filter": "datum.s == 'B'"}], "mark": {"type": "line", "strokeWidth": 3.5, "color": "#000000", "interpolate": "monotone"},
   "encoding": {"x": {"field": "x", "type": "quantitative", "scale": {"domain": [0,12], "nice": false, "zero": false}, "axis": {"orient": "bottom", "offset": -6, "values": [0,2,4,6,8,10,12], "labels": false, "title": null}},
                "y": {"field": "y", "type": "quantitative", "scale": {"domain": [-0.1,1.1], "nice": false, "zero": false}, "axis": {"orient": "left", "offset": -6, "values": [0,0.2,0.4,0.6,0.8,1], "labels": false, "title": null}}}},
  {"data": {"name": "g"}, "transform": [{"filter": "datum.s == 'B'"}], "mark": {"type": "point", "shape": "triangle-up", "filled": false, "color": "#000000", "size": 185, "strokeWidth": 1},
   "encoding": {"x": {"field": "x", "type": "quantitative", "axis": {"orient": "top", "offset": -6, "values": [0,2,4,6,8,10,12], "labels": false, "title": null}},
                "y": {"field": "y", "type": "quantitative", "axis": {"orient": "right", "offset": -6, "values": [0,0.2,0.4,0.6,0.8,1], "labels": false, "title": null}}}},
  {"data": {"name": "g"}, "transform": [{"filter": "datum.s == 'A'"}], "mark": {"type": "line", "strokeWidth": 3.5, "color": "#ff0000", "interpolate": "monotone"}, "encoding": {"x": {"field": "x", "type": "quantitative", "axis": null}, "y": {"field": "y", "type": "quantitative", "axis": null}}},
  {"data": {"name": "g"}, "transform": [{"filter": "datum.s == 'A'"}], "mark": {"type": "point", "shape": "circle", "filled": false, "color": "#ff0000", "size": 125, "strokeWidth": 1}, "encoding": {"x": {"field": "x", "type": "quantitative", "axis": null}, "y": {"field": "y", "type": "quantitative", "axis": null}}},
  {"data": {"name": "g"}, "transform": [{"filter": "datum.s == 'K'"}], "mark": {"type": "line", "strokeWidth": 3.5, "color": "#00ff00", "interpolate": "monotone"}, "encoding": {"x": {"field": "x", "type": "quantitative", "axis": null}, "y": {"field": "y", "type": "quantitative", "axis": null}}},
  {"data": {"name": "g"}, "transform": [{"filter": "datum.s == 'K'"}], "mark": {"type": "point", "shape": "square", "filled": false, "color": "#00ff00", "size": 100, "strokeWidth": 1}, "encoding": {"x": {"field": "x", "type": "quantitative", "axis": null}, "y": {"field": "y", "type": "quantitative", "axis": null}}},
  {"data": {"values": [{}]}, "mark": {"type": "text", "fontSize": 30, "align": "left", "baseline": "middle"},
   "encoding": {"x": {"datum": 0.6, "type": "quantitative", "axis": {"orient": "bottom", "offset": -3, "tickSize": 6, "values": [1,3,5,7,9,11], "labels": false, "title": null}}, "y": {"datum": 1.005, "type": "quantitative", "axis": {"orient": "left", "offset": -3, "tickSize": 6, "values": [0.1,0.3,0.5,0.7,0.9], "labels": false, "title": null}}, "text": {"value": "(g)"}}},
  {"data": {"values": [{}]}, "mark": {"type": "text", "fontSize": 27, "align": "right", "baseline": "middle"},
   "encoding": {"x": {"datum": 11.62, "type": "quantitative", "axis": {"orient": "top", "offset": -3, "tickSize": 6, "values": [1,3,5,7,9,11], "labels": false, "title": null}}, "y": {"datum": 0.96, "type": "quantitative", "axis": {"orient": "right", "offset": -3, "tickSize": 6, "values": [0.1,0.3,0.5,0.7,0.9], "labels": false, "title": null}}, "text": {"value": "C₆H₆²⁺ - N⁺"}}}
 ],
 "resolve": {"axis": {"x": "independent", "y": "independent"}}
},
{
 "width": 410, "height": 330,
 "layer": [
  {"data": {"name": "b"}, "transform": [{"filter": "datum.s == 'B'"}], "mark": {"type": "line", "strokeWidth": 3.5, "color": "#000000"},
   "encoding": {"x": {"field": "x", "type": "quantitative", "scale": {"domain": [0,20], "nice": false, "zero": false}, "axis": {"orient": "bottom", "offset": -6, "values": [0,4,8,12,16,20], "labels": false, "title": null}},
                "y": {"field": "y", "type": "quantitative", "scale": {"domain": [-0.1,1.1], "nice": false, "zero": false}, "axis": {"orient": "left", "offset": -6, "values": [0,0.2,0.4,0.6,0.8,1], "format": ".1f", "title": "Intensity (Normalized)", "titlePadding": 24}}}},
  {"data": {"name": "b"}, "transform": [{"filter": "datum.s == 'B'"}], "mark": {"type": "point", "shape": "triangle-up", "filled": false, "color": "#000000", "size": 185, "strokeWidth": 1},
   "encoding": {"x": {"field": "x", "type": "quantitative", "axis": {"orient": "top", "offset": -6, "values": [0,4,8,12,16,20], "labels": false, "title": null}},
                "y": {"field": "y", "type": "quantitative", "axis": {"orient": "right", "offset": -6, "values": [0,0.2,0.4,0.6,0.8,1], "labels": false, "title": null}}}},
  {"data": {"name": "b"}, "transform": [{"filter": "datum.s == 'A'"}], "mark": {"type": "line", "strokeWidth": 3.5, "color": "#ff0000"}, "encoding": {"x": {"field": "x", "type": "quantitative", "axis": null}, "y": {"field": "y", "type": "quantitative", "axis": null}}},
  {"data": {"name": "b"}, "transform": [{"filter": "datum.s == 'A'"}], "mark": {"type": "point", "shape": "circle", "filled": false, "color": "#ff0000", "size": 125, "strokeWidth": 1}, "encoding": {"x": {"field": "x", "type": "quantitative", "axis": null}, "y": {"field": "y", "type": "quantitative", "axis": null}}},
  {"data": {"name": "b"}, "transform": [{"filter": "datum.s == 'K'"}], "mark": {"type": "line", "strokeWidth": 3.5, "color": "#00ff00"}, "encoding": {"x": {"field": "x", "type": "quantitative", "axis": null}, "y": {"field": "y", "type": "quantitative", "axis": null}}},
  {"data": {"name": "b"}, "transform": [{"filter": "datum.s == 'K'"}], "mark": {"type": "point", "shape": "square", "filled": false, "color": "#00ff00", "size": 100, "strokeWidth": 1}, "encoding": {"x": {"field": "x", "type": "quantitative", "axis": null}, "y": {"field": "y", "type": "quantitative", "axis": null}}},
  {"data": {"values": [{}]}, "mark": {"type": "text", "fontSize": 30, "align": "left", "baseline": "middle"},
   "encoding": {"x": {"datum": 0.7, "type": "quantitative", "axis": {"orient": "bottom", "offset": -3, "tickSize": 6, "values": [2,6,10,14,18], "labels": false, "title": null}}, "y": {"datum": 1.005, "type": "quantitative", "axis": {"orient": "left", "offset": -3, "tickSize": 6, "values": [0.1,0.3,0.5,0.7,0.9], "labels": false, "title": null}}, "text": {"value": "(b)"}}},
  {"data": {"values": [{}]}, "mark": {"type": "text", "fontSize": 27, "align": "right", "baseline": "middle"},
   "encoding": {"x": {"datum": 19.46, "type": "quantitative", "axis": {"orient": "top", "offset": -3, "tickSize": 6, "values": [2,6,10,14,18], "labels": false, "title": null}}, "y": {"datum": 0.962, "type": "quantitative", "axis": {"orient": "right", "offset": -3, "tickSize": 6, "values": [0.1,0.3,0.5,0.7,0.9], "labels": false, "title": null}}, "text": {"value": "C₂H₃⁺- C₄H₃⁺- N⁺"}}}
 ],
 "resolve": {"axis": {"x": "independent", "y": "independent"}}
},
{
 "width": 409, "height": 330,
 "layer": [
  {"data": {"name": "e"}, "transform": [{"filter": "datum.s == 'B'"}], "mark": {"type": "line", "strokeWidth": 3.5, "color": "#000000"},
   "encoding": {"x": {"field": "x", "type": "quantitative", "scale": {"domain": [0,8], "nice": false, "zero": false}, "axis": {"orient": "bottom", "offset": -6, "values": [0,2,4,6,8], "labels": false, "title": null}},
                "y": {"field": "y", "type": "quantitative", "scale": {"domain": [-0.1,1.1], "nice": false, "zero": false}, "axis": {"orient": "left", "offset": -6, "values": [0,0.2,0.4,0.6,0.8,1], "labels": false, "title": null}}}},
  {"data": {"name": "e"}, "transform": [{"filter": "datum.s == 'B'"}], "mark": {"type": "point", "shape": "triangle-up", "filled": false, "color": "#000000", "size": 185, "strokeWidth": 1},
   "encoding": {"x": {"field": "x", "type": "quantitative", "axis": {"orient": "top", "offset": -6, "values": [0,2,4,6,8], "labels": false, "title": null}},
                "y": {"field": "y", "type": "quantitative", "axis": {"orient": "right", "offset": -6, "values": [0,0.2,0.4,0.6,0.8,1], "labels": false, "title": null}}}},
  {"data": {"name": "e"}, "transform": [{"filter": "datum.s == 'A'"}], "mark": {"type": "line", "strokeWidth": 3.5, "color": "#ff0000"}, "encoding": {"x": {"field": "x", "type": "quantitative", "axis": null}, "y": {"field": "y", "type": "quantitative", "axis": null}}},
  {"data": {"name": "e"}, "transform": [{"filter": "datum.s == 'A'"}], "mark": {"type": "point", "shape": "circle", "filled": false, "color": "#ff0000", "size": 125, "strokeWidth": 1}, "encoding": {"x": {"field": "x", "type": "quantitative", "axis": null}, "y": {"field": "y", "type": "quantitative", "axis": null}}},
  {"data": {"name": "e"}, "transform": [{"filter": "datum.s == 'K'"}], "mark": {"type": "line", "strokeWidth": 3.5, "color": "#00ff00"}, "encoding": {"x": {"field": "x", "type": "quantitative", "axis": null}, "y": {"field": "y", "type": "quantitative", "axis": null}}},
  {"data": {"name": "e"}, "transform": [{"filter": "datum.s == 'K'"}], "mark": {"type": "point", "shape": "square", "filled": false, "color": "#00ff00", "size": 100, "strokeWidth": 1}, "encoding": {"x": {"field": "x", "type": "quantitative", "axis": null}, "y": {"field": "y", "type": "quantitative", "axis": null}}},
  {"data": {"name": "e"}, "transform": [{"filter": "datum.s == 'P'"}], "mark": {"type": "line", "strokeWidth": 3.5, "color": "#9b5cf0"}, "encoding": {"x": {"field": "x", "type": "quantitative", "axis": null}, "y": {"field": "y", "type": "quantitative", "axis": null}}},
  {"data": {"name": "e"}, "transform": [{"filter": "datum.s == 'P'"}], "mark": {"type": "point", "shape": "triangle-down", "filled": false, "color": "#9b5cf0", "size": 185, "strokeWidth": 1}, "encoding": {"x": {"field": "x", "type": "quantitative", "axis": null}, "y": {"field": "y", "type": "quantitative", "axis": null}}},
  {"data": {"name": "e"}, "transform": [{"filter": "datum.s == 'P'"}], "mark": {"type": "point", "filled": true, "opacity": 0},
   "encoding": {
    "color": {"field": "s", "type": "nominal", "scale": {"domain": ["P"], "range": ["#9b5cf0"]},
      "legend": {"orient": "none", "legendX": 211, "legendY": 16, "title": null, "values": ["P"], "labelExpr": "'C₂H₃⁺-C₄H₃⁺'", "symbolSize": 1225, "symbolOpacity": 1, "symbolStrokeWidth": 0, "labelOffset": 21, "rowPadding": 0}},
    "shape": {"field": "s", "type": "nominal", "scale": {"domain": ["P"], "range": ["M-1.55,-0.1L-0.4,-0.1L-0.4,0.1L-1.55,0.1Z M0.4,-0.1L1.55,-0.1L1.55,0.1L0.4,0.1Z M0,0.36L-0.34,-0.25L0.34,-0.25Z M0,0.23L0.232,-0.187L-0.232,-0.187Z"]},
      "legend": {"orient": "none", "legendX": 211, "legendY": 16, "title": null, "values": ["P"], "labelExpr": "'C₂H₃⁺-C₄H₃⁺'", "symbolSize": 1225, "symbolOpacity": 1, "symbolStrokeWidth": 0, "labelOffset": 21, "rowPadding": 0}}
   }},
  {"data": {"values": [{}]}, "mark": {"type": "text", "fontSize": 30, "align": "left", "baseline": "middle"},
   "encoding": {"x": {"datum": 0.32, "type": "quantitative", "axis": {"orient": "bottom", "offset": -3, "tickSize": 6, "values": [1,3,5,7], "labels": false, "title": null}}, "y": {"datum": 1.005, "type": "quantitative", "axis": {"orient": "left", "offset": -3, "tickSize": 6, "values": [0.1,0.3,0.5,0.7,0.9], "labels": false, "title": null}}, "text": {"value": "(e)"}}},
  {"data": {"values": [{}]}, "mark": {"type": "text", "fontSize": 27, "align": "right", "baseline": "middle"},
   "encoding": {"x": {"datum": 7.9, "type": "quantitative", "axis": {"orient": "top", "offset": -3, "tickSize": 6, "values": [1,3,5,7], "labels": false, "title": null}}, "y": {"datum": 0.96, "type": "quantitative", "axis": {"orient": "right", "offset": -3, "tickSize": 6, "values": [0.1,0.3,0.5,0.7,0.9], "labels": false, "title": null}}, "text": {"value": ""}}}
 ],
 "resolve": {"axis": {"x": "independent", "y": "independent"}}
},
{
 "width": 401, "height": 330,
 "layer": [
  {"data": {"name": "h"}, "transform": [{"filter": "datum.s == 'B'"}], "mark": {"type": "line", "strokeWidth": 3.5, "color": "#000000", "interpolate": "monotone"},
   "encoding": {"x": {"field": "x", "type": "quantitative", "scale": {"domain": [0,12], "nice": false, "zero": false}, "axis": {"orient": "bottom", "offset": -6, "values": [0,2,4,6,8,10,12], "labels": false, "title": null}},
                "y": {"field": "y", "type": "quantitative", "scale": {"domain": [-0.1,1.1], "nice": false, "zero": false}, "axis": {"orient": "left", "offset": -6, "values": [0,0.2,0.4,0.6,0.8,1], "labels": false, "title": null}}}},
  {"data": {"name": "h"}, "transform": [{"filter": "datum.s == 'B'"}], "mark": {"type": "point", "shape": "triangle-up", "filled": false, "color": "#000000", "size": 185, "strokeWidth": 1},
   "encoding": {"x": {"field": "x", "type": "quantitative", "axis": {"orient": "top", "offset": -6, "values": [0,2,4,6,8,10,12], "labels": false, "title": null}},
                "y": {"field": "y", "type": "quantitative", "axis": {"orient": "right", "offset": -6, "values": [0,0.2,0.4,0.6,0.8,1], "labels": false, "title": null}}}},
  {"data": {"name": "h"}, "transform": [{"filter": "datum.s == 'A'"}], "mark": {"type": "line", "strokeWidth": 3.5, "color": "#ff0000", "interpolate": "monotone"}, "encoding": {"x": {"field": "x", "type": "quantitative", "axis": null}, "y": {"field": "y", "type": "quantitative", "axis": null}}},
  {"data": {"name": "h"}, "transform": [{"filter": "datum.s == 'A'"}], "mark": {"type": "point", "shape": "circle", "filled": false, "color": "#ff0000", "size": 125, "strokeWidth": 1}, "encoding": {"x": {"field": "x", "type": "quantitative", "axis": null}, "y": {"field": "y", "type": "quantitative", "axis": null}}},
  {"data": {"name": "h"}, "transform": [{"filter": "datum.s == 'K'"}], "mark": {"type": "line", "strokeWidth": 3.5, "color": "#00ff00", "interpolate": "monotone"}, "encoding": {"x": {"field": "x", "type": "quantitative", "axis": null}, "y": {"field": "y", "type": "quantitative", "axis": null}}},
  {"data": {"name": "h"}, "transform": [{"filter": "datum.s == 'K'"}], "mark": {"type": "point", "shape": "square", "filled": false, "color": "#00ff00", "size": 100, "strokeWidth": 1}, "encoding": {"x": {"field": "x", "type": "quantitative", "axis": null}, "y": {"field": "y", "type": "quantitative", "axis": null}}},
  {"data": {"values": [{}]}, "mark": {"type": "text", "fontSize": 30, "align": "left", "baseline": "middle"},
   "encoding": {"x": {"datum": 0.6, "type": "quantitative", "axis": {"orient": "bottom", "offset": -3, "tickSize": 6, "values": [1,3,5,7,9,11], "labels": false, "title": null}}, "y": {"datum": 1.005, "type": "quantitative", "axis": {"orient": "left", "offset": -3, "tickSize": 6, "values": [0.1,0.3,0.5,0.7,0.9], "labels": false, "title": null}}, "text": {"value": "(h)"}}},
  {"data": {"values": [{}]}, "mark": {"type": "text", "fontSize": 27, "align": "right", "baseline": "middle"},
   "encoding": {"x": {"datum": 11.6, "type": "quantitative", "axis": {"orient": "top", "offset": -3, "tickSize": 6, "values": [1,3,5,7,9,11], "labels": false, "title": null}}, "y": {"datum": 0.96, "type": "quantitative", "axis": {"orient": "right", "offset": -3, "tickSize": 6, "values": [0.1,0.3,0.5,0.7,0.9], "labels": false, "title": null}}, "text": {"value": ""}}}
 ],
 "resolve": {"axis": {"x": "independent", "y": "independent"}}
},
{
 "width": 410, "height": 330,
 "layer": [
  {"data": {"name": "c"}, "transform": [{"filter": "datum.s == 'B'"}], "mark": {"type": "line", "strokeWidth": 3.5, "color": "#000000"},
   "encoding": {"x": {"field": "x", "type": "quantitative", "scale": {"domain": [0,20], "nice": false, "zero": false}, "axis": {"orient": "bottom", "offset": -6, "values": [0,4,8,12,16], "title": null}},
                "y": {"field": "y", "type": "quantitative", "scale": {"domain": [-0.1,1.1], "nice": false, "zero": false}, "axis": {"orient": "left", "offset": -6, "values": [0,0.2,0.4,0.6,0.8,1], "format": ".1f", "title": null}}}},
  {"data": {"name": "c"}, "transform": [{"filter": "datum.s == 'B'"}], "mark": {"type": "point", "shape": "triangle-up", "filled": false, "color": "#000000", "size": 185, "strokeWidth": 1},
   "encoding": {"x": {"field": "x", "type": "quantitative", "axis": {"orient": "top", "offset": -6, "values": [0,4,8,12,16,20], "labels": false, "title": null}},
                "y": {"field": "y", "type": "quantitative", "axis": {"orient": "right", "offset": -6, "values": [0,0.2,0.4,0.6,0.8,1], "labels": false, "title": null}}}},
  {"data": {"name": "c"}, "transform": [{"filter": "datum.s == 'A'"}], "mark": {"type": "line", "strokeWidth": 3.5, "color": "#ff0000"}, "encoding": {"x": {"field": "x", "type": "quantitative", "axis": null}, "y": {"field": "y", "type": "quantitative", "axis": null}}},
  {"data": {"name": "c"}, "transform": [{"filter": "datum.s == 'A'"}], "mark": {"type": "point", "shape": "circle", "filled": false, "color": "#ff0000", "size": 125, "strokeWidth": 1}, "encoding": {"x": {"field": "x", "type": "quantitative", "axis": null}, "y": {"field": "y", "type": "quantitative", "axis": null}}},
  {"data": {"name": "c"}, "transform": [{"filter": "datum.s == 'K'"}], "mark": {"type": "line", "strokeWidth": 3.5, "color": "#00ff00"}, "encoding": {"x": {"field": "x", "type": "quantitative", "axis": null}, "y": {"field": "y", "type": "quantitative", "axis": null}}},
  {"data": {"name": "c"}, "transform": [{"filter": "datum.s == 'K'"}], "mark": {"type": "point", "shape": "square", "filled": false, "color": "#00ff00", "size": 100, "strokeWidth": 1}, "encoding": {"x": {"field": "x", "type": "quantitative", "axis": null}, "y": {"field": "y", "type": "quantitative", "axis": null}}},
  {"data": {"values": [{}]}, "mark": {"type": "text", "fontSize": 30, "align": "left", "baseline": "middle"},
   "encoding": {"x": {"datum": 0.72, "type": "quantitative", "axis": {"orient": "bottom", "offset": -3, "tickSize": 6, "values": [2,6,10,14,18], "labels": false, "title": null}}, "y": {"datum": 0.944, "type": "quantitative", "axis": {"orient": "left", "offset": -3, "tickSize": 6, "values": [0.1,0.3,0.5,0.7,0.9], "labels": false, "title": null}}, "text": {"value": "(c)"}}},
  {"data": {"values": [{}]}, "mark": {"type": "text", "fontSize": 27, "align": "right", "baseline": "middle"},
   "encoding": {"x": {"datum": 19.46, "type": "quantitative", "axis": {"orient": "top", "offset": -3, "tickSize": 6, "values": [2,6,10,14,18], "labels": false, "title": null}}, "y": {"datum": 0.962, "type": "quantitative", "axis": {"orient": "right", "offset": -3, "tickSize": 6, "values": [0.1,0.3,0.5,0.7,0.9], "labels": false, "title": null}}, "text": {"value": "C₃H₃⁺- C₃H₃⁺- N⁺"}}}
 ],
 "resolve": {"axis": {"x": "independent", "y": "independent"}}
},
{
 "width": 409, "height": 330,
 "layer": [
  {"data": {"name": "f"}, "transform": [{"filter": "datum.s == 'B'"}], "mark": {"type": "line", "strokeWidth": 3.5, "color": "#000000"},
   "encoding": {"x": {"field": "x", "type": "quantitative", "scale": {"domain": [0,8], "nice": false, "zero": false}, "axis": {"orient": "bottom", "offset": -6, "values": [0,2,4,6], "title": "KER (eV)", "titlePadding": 17}},
                "y": {"field": "y", "type": "quantitative", "scale": {"domain": [-0.1,1.1], "nice": false, "zero": false}, "axis": {"orient": "left", "offset": -6, "values": [0,0.2,0.4,0.6,0.8,1], "labels": false, "title": null}}}},
  {"data": {"name": "f"}, "transform": [{"filter": "datum.s == 'B'"}], "mark": {"type": "point", "shape": "triangle-up", "filled": false, "color": "#000000", "size": 185, "strokeWidth": 1},
   "encoding": {"x": {"field": "x", "type": "quantitative", "axis": {"orient": "top", "offset": -6, "values": [0,2,4,6,8], "labels": false, "title": null}},
                "y": {"field": "y", "type": "quantitative", "axis": {"orient": "right", "offset": -6, "values": [0,0.2,0.4,0.6,0.8,1], "labels": false, "title": null}}}},
  {"data": {"name": "f"}, "transform": [{"filter": "datum.s == 'A'"}], "mark": {"type": "line", "strokeWidth": 3.5, "color": "#ff0000"}, "encoding": {"x": {"field": "x", "type": "quantitative", "axis": null}, "y": {"field": "y", "type": "quantitative", "axis": null}}},
  {"data": {"name": "f"}, "transform": [{"filter": "datum.s == 'A'"}], "mark": {"type": "point", "shape": "circle", "filled": false, "color": "#ff0000", "size": 125, "strokeWidth": 1}, "encoding": {"x": {"field": "x", "type": "quantitative", "axis": null}, "y": {"field": "y", "type": "quantitative", "axis": null}}},
  {"data": {"name": "f"}, "transform": [{"filter": "datum.s == 'K'"}], "mark": {"type": "line", "strokeWidth": 3.5, "color": "#00ff00"}, "encoding": {"x": {"field": "x", "type": "quantitative", "axis": null}, "y": {"field": "y", "type": "quantitative", "axis": null}}},
  {"data": {"name": "f"}, "transform": [{"filter": "datum.s == 'K'"}], "mark": {"type": "point", "shape": "square", "filled": false, "color": "#00ff00", "size": 100, "strokeWidth": 1}, "encoding": {"x": {"field": "x", "type": "quantitative", "axis": null}, "y": {"field": "y", "type": "quantitative", "axis": null}}},
  {"data": {"name": "f"}, "transform": [{"filter": "datum.s == 'P'"}], "mark": {"type": "line", "strokeWidth": 3.5, "color": "#9b5cf0"}, "encoding": {"x": {"field": "x", "type": "quantitative", "axis": null}, "y": {"field": "y", "type": "quantitative", "axis": null}}},
  {"data": {"name": "f"}, "transform": [{"filter": "datum.s == 'P'"}], "mark": {"type": "point", "shape": "triangle-down", "filled": false, "color": "#9b5cf0", "size": 185, "strokeWidth": 1}, "encoding": {"x": {"field": "x", "type": "quantitative", "axis": null}, "y": {"field": "y", "type": "quantitative", "axis": null}}},
  {"data": {"name": "f"}, "transform": [{"filter": "datum.s == 'P'"}], "mark": {"type": "point", "filled": true, "opacity": 0},
   "encoding": {
    "color": {"field": "s", "type": "nominal", "scale": {"domain": ["P"], "range": ["#9b5cf0"]},
      "legend": {"orient": "none", "legendX": 210, "legendY": 15, "title": null, "values": ["P"], "labelExpr": "'C₃H₃⁺-C₃H₃⁺'", "symbolSize": 1225, "symbolOpacity": 1, "symbolStrokeWidth": 0, "labelOffset": 21, "rowPadding": 0}},
    "shape": {"field": "s", "type": "nominal", "scale": {"domain": ["P"], "range": ["M-1.55,-0.1L-0.4,-0.1L-0.4,0.1L-1.55,0.1Z M0.4,-0.1L1.55,-0.1L1.55,0.1L0.4,0.1Z M0,0.36L-0.34,-0.25L0.34,-0.25Z M0,0.23L0.232,-0.187L-0.232,-0.187Z"]},
      "legend": {"orient": "none", "legendX": 210, "legendY": 15, "title": null, "values": ["P"], "labelExpr": "'C₃H₃⁺-C₃H₃⁺'", "symbolSize": 1225, "symbolOpacity": 1, "symbolStrokeWidth": 0, "labelOffset": 21, "rowPadding": 0}}
   }},
  {"data": {"values": [{}]}, "mark": {"type": "text", "fontSize": 30, "align": "left", "baseline": "middle"},
   "encoding": {"x": {"datum": 0.37, "type": "quantitative", "axis": {"orient": "bottom", "offset": -3, "tickSize": 6, "values": [1,3,5,7], "labels": false, "title": null}}, "y": {"datum": 0.944, "type": "quantitative", "axis": {"orient": "left", "offset": -3, "tickSize": 6, "values": [0.1,0.3,0.5,0.7,0.9], "labels": false, "title": null}}, "text": {"value": "(f)"}}},
  {"data": {"values": [{}]}, "mark": {"type": "text", "fontSize": 27, "align": "right", "baseline": "middle"},
   "encoding": {"x": {"datum": 7.9, "type": "quantitative", "axis": {"orient": "top", "offset": -3, "tickSize": 6, "values": [1,3,5,7], "labels": false, "title": null}}, "y": {"datum": 0.96, "type": "quantitative", "axis": {"orient": "right", "offset": -3, "tickSize": 6, "values": [0.1,0.3,0.5,0.7,0.9], "labels": false, "title": null}}, "text": {"value": ""}}}
 ],
 "resolve": {"axis": {"x": "independent", "y": "independent"}}
},
{
 "width": 401, "height": 330,
 "layer": [
  {"data": {"name": "i"}, "transform": [{"filter": "datum.s == 'B'"}], "mark": {"type": "line", "strokeWidth": 3.5, "color": "#000000", "interpolate": "monotone"},
   "encoding": {"x": {"field": "x", "type": "quantitative", "scale": {"domain": [0,12], "nice": false, "zero": false}, "axis": {"orient": "bottom", "offset": -6, "values": [0,2,4,6,8,10,12], "title": null}},
                "y": {"field": "y", "type": "quantitative", "scale": {"domain": [-0.1,1.1], "nice": false, "zero": false}, "axis": {"orient": "left", "offset": -6, "values": [0,0.2,0.4,0.6,0.8,1], "labels": false, "title": null}}}},
  {"data": {"name": "i"}, "transform": [{"filter": "datum.s == 'B'"}], "mark": {"type": "point", "shape": "triangle-up", "filled": false, "color": "#000000", "size": 185, "strokeWidth": 1},
   "encoding": {"x": {"field": "x", "type": "quantitative", "axis": {"orient": "top", "offset": -6, "values": [0,2,4,6,8,10,12], "labels": false, "title": null}},
                "y": {"field": "y", "type": "quantitative", "axis": {"orient": "right", "offset": -6, "values": [0,0.2,0.4,0.6,0.8,1], "labels": false, "title": null}}}},
  {"data": {"name": "i"}, "transform": [{"filter": "datum.s == 'A'"}], "mark": {"type": "line", "strokeWidth": 3.5, "color": "#ff0000", "interpolate": "monotone"}, "encoding": {"x": {"field": "x", "type": "quantitative", "axis": null}, "y": {"field": "y", "type": "quantitative", "axis": null}}},
  {"data": {"name": "i"}, "transform": [{"filter": "datum.s == 'A'"}], "mark": {"type": "point", "shape": "circle", "filled": false, "color": "#ff0000", "size": 125, "strokeWidth": 1}, "encoding": {"x": {"field": "x", "type": "quantitative", "axis": null}, "y": {"field": "y", "type": "quantitative", "axis": null}}},
  {"data": {"name": "i"}, "transform": [{"filter": "datum.s == 'K'"}], "mark": {"type": "line", "strokeWidth": 3.5, "color": "#00ff00", "interpolate": "monotone"}, "encoding": {"x": {"field": "x", "type": "quantitative", "axis": null}, "y": {"field": "y", "type": "quantitative", "axis": null}}},
  {"data": {"name": "i"}, "transform": [{"filter": "datum.s == 'K'"}], "mark": {"type": "point", "shape": "square", "filled": false, "color": "#00ff00", "size": 100, "strokeWidth": 1}, "encoding": {"x": {"field": "x", "type": "quantitative", "axis": null}, "y": {"field": "y", "type": "quantitative", "axis": null}}},
  {"data": {"values": [{}]}, "mark": {"type": "text", "fontSize": 30, "align": "left", "baseline": "middle"},
   "encoding": {"x": {"datum": 0.75, "type": "quantitative", "axis": {"orient": "bottom", "offset": -3, "tickSize": 6, "values": [1,3,5,7,9,11], "labels": false, "title": null}}, "y": {"datum": 0.947, "type": "quantitative", "axis": {"orient": "left", "offset": -3, "tickSize": 6, "values": [0.1,0.3,0.5,0.7,0.9], "labels": false, "title": null}}, "text": {"value": "(i)"}}},
  {"data": {"values": [{}]}, "mark": {"type": "text", "fontSize": 27, "align": "right", "baseline": "middle"},
   "encoding": {"x": {"datum": 11.6, "type": "quantitative", "axis": {"orient": "top", "offset": -3, "tickSize": 6, "values": [1,3,5,7,9,11], "labels": false, "title": null}}, "y": {"datum": 0.96, "type": "quantitative", "axis": {"orient": "right", "offset": -3, "tickSize": 6, "values": [0.1,0.3,0.5,0.7,0.9], "labels": false, "title": null}}, "text": {"value": ""}}}
 ],
 "resolve": {"axis": {"x": "independent", "y": "independent"}}
}
]
}
